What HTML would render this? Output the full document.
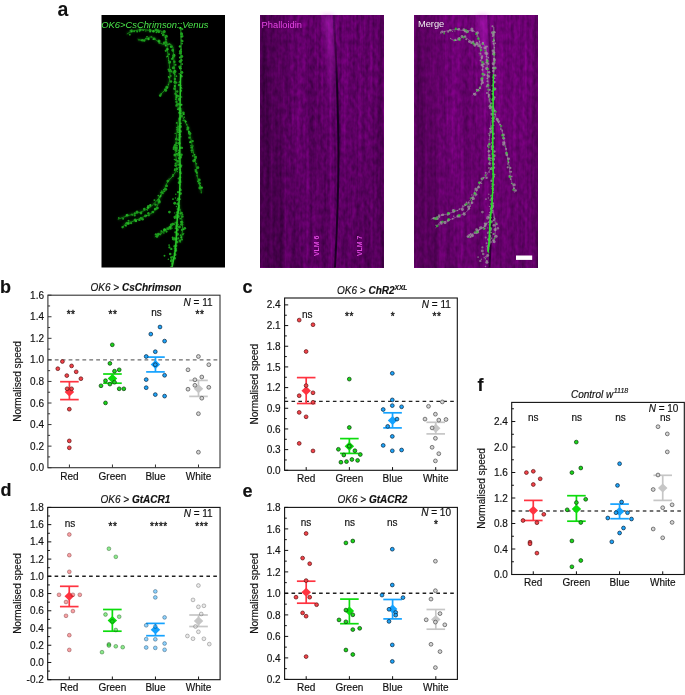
<!DOCTYPE html><html><head><meta charset="utf-8"><title>Figure</title>
<style>html,body{margin:0;padding:0;background:#fff;}svg{display:block;} .ch text{stroke:#111;stroke-width:0.16px;}</style></head><body>
<svg width="685" height="695" viewBox="0 0 685 695" font-family="'Liberation Sans', Arial, sans-serif" fill="#111">
<rect width="685" height="695" fill="#fff"/>
<defs>
<clipPath id="cp1"><rect x="0" y="0" width="123.5" height="252.5"/></clipPath>
<filter id="purp" x="0" y="0" width="1" height="1" color-interpolation-filters="sRGB">
<feTurbulence type="fractalNoise" baseFrequency="0.28 0.16" numOctaves="2" seed="3" result="t1"/>
<feColorMatrix in="t1" type="matrix" values="1 0 0 0 0  1 0 0 0 0  1 0 0 0 0  0 0 0 0 1" result="n1"/>
<feTurbulence type="fractalNoise" baseFrequency="0.30 0.006" numOctaves="2" seed="11" result="t2"/>
<feColorMatrix in="t2" type="matrix" values="1 0 0 0 0  1 0 0 0 0  1 0 0 0 0  0 0 0 0 1" result="n2"/>
<feComposite in="n1" in2="n2" operator="arithmetic" k1="0" k2="0.55" k3="0.55" k4="-0.05" result="n"/>
<feColorMatrix in="n" type="matrix" values="0.46 0 0 0 0.17  0 0 0 0 0  0.46 0 0 0 0.20  0 0 0 0 1"/>
</filter>
<filter id="gblur" x="-5%" y="-5%" width="110%" height="110%"><feGaussianBlur stdDeviation="0.45"/></filter>
<filter id="gblur3" x="-50%" y="-10%" width="200%" height="120%"><feGaussianBlur stdDeviation="2.5"/></filter>
<filter id="gblurL" x="-50%" y="-5%" width="200%" height="110%"><feGaussianBlur stdDeviation="0.7"/></filter>
<filter id="gblur2" x="-20%" y="-5%" width="140%" height="110%"><feGaussianBlur stdDeviation="1.2"/></filter>
<linearGradient id="shade" x1="0" x2="1" y1="0" y2="0">
<stop offset="0" stop-color="#000" stop-opacity="0.30"/>
<stop offset="0.10" stop-color="#000" stop-opacity="0.24"/>
<stop offset="0.17" stop-color="#000" stop-opacity="0.22"/>
<stop offset="0.22" stop-color="#000" stop-opacity="0.08"/>
<stop offset="0.36" stop-color="#000" stop-opacity="0.02"/>
<stop offset="0.48" stop-color="#000" stop-opacity="0.10"/>
<stop offset="0.56" stop-color="#000" stop-opacity="0.03"/>
<stop offset="0.60" stop-color="#000" stop-opacity="0"/>
<stop offset="0.66" stop-color="#000" stop-opacity="0.06"/>
<stop offset="0.80" stop-color="#000" stop-opacity="0.05"/>
<stop offset="0.95" stop-color="#000" stop-opacity="0.10"/>
<stop offset="1" stop-color="#000" stop-opacity="0.28"/>
</linearGradient>
<linearGradient id="lineg" gradientUnits="userSpaceOnUse" x1="0" x2="0" y1="0" y2="252.5">
<stop offset="0" stop-color="#12001a" stop-opacity="0.25"/>
<stop offset="0.15" stop-color="#12001a" stop-opacity="0.5"/>
<stop offset="0.3" stop-color="#12001a" stop-opacity="0.9"/>
<stop offset="1" stop-color="#12001a" stop-opacity="0.85"/>
</linearGradient>
<linearGradient id="ridge" x1="0" x2="0" y1="0" y2="1">
<stop offset="0" stop-color="#d030e0" stop-opacity="0.55"/>
<stop offset="0.5" stop-color="#d030e0" stop-opacity="0.25"/>
<stop offset="1" stop-color="#d030e0" stop-opacity="0"/>
</linearGradient>
<linearGradient id="vshade" x1="0" x2="0" y1="0" y2="1">
<stop offset="0" stop-color="#000" stop-opacity="0"/>
<stop offset="0.5" stop-color="#000" stop-opacity="0.05"/>
<stop offset="1" stop-color="#000" stop-opacity="0.1"/>
</linearGradient>
<g id="purpbg">
<rect x="0" y="0" width="123.5" height="252.5" filter="url(#purp)"/>
<rect x="0" y="0" width="123.5" height="252.5" fill="url(#shade)"/>
<rect x="0" y="0" width="123.5" height="252.5" fill="url(#vshade)"/>
<path d="M62 0 L73 0 C75.5 30 76.5 60 77 120 L71 120 C69 60 66 30 62 0Z" fill="url(#ridge)" opacity="0.7" filter="url(#gblur3)"/>
<path d="M73.5 0 C76.5 40 78 90 78.5 140 C78.3 190 76.5 225 75 252.5" fill="none" stroke="url(#lineg)" stroke-width="2.0" filter="url(#gblurL)"/>
</g>
</defs>
<rect x="101.5" y="15.0" width="123.5" height="252.5" fill="#000"/>
<g transform="translate(101.5 15.0)" clip-path="url(#cp1)">
<g fill="none" stroke="#128012" stroke-width="3.2" opacity="0.35" filter="url(#gblur2)"><path d="M25.3 19.0 C26.4 18.5 29.1 16.7 31.9 16.0 C34.7 15.3 38.9 14.6 42.1 14.6 C45.2 14.6 48.1 15.8 50.8 16.0 C53.5 16.1 56.1 15.0 58.1 15.5 C60.0 16.0 61.4 17.1 62.5 19.0 C63.6 20.9 64.3 23.5 65.0 27.0 C65.7 30.5 66.0 36.0 66.5 40.0 C67.0 44.0 67.7 47.5 68.0 51.0 C68.3 54.5 68.7 57.8 68.5 61.0 C68.3 64.2 67.7 67.8 66.9 70.1 C66.2 72.3 65.5 72.8 64.0 74.5 C62.5 76.2 59.1 79.3 58.1 80.3"/>
<path d="M36.2 24.1 C37.2 24.3 39.9 25.9 42.1 25.5 C44.3 25.1 47.2 21.9 49.4 21.9 C51.6 21.9 53.2 24.3 55.2 25.5 C57.1 26.7 58.9 28.6 61.1 29.2 C63.3 29.8 66.7 28.7 68.4 29.2 C70.1 29.7 70.7 30.3 71.3 32.1 C71.9 33.9 71.8 36.8 72.0 40.0 C72.2 43.2 72.4 46.8 72.7 51.1 C72.9 55.4 73.2 60.8 73.5 65.7 C73.8 70.6 73.8 76.7 74.2 80.3 C74.6 83.9 75.2 85.1 75.7 87.6 C76.2 90.0 76.8 93.8 77.0 95.0"/>
<path d="M79.5 93.0 C79.8 94.6 80.4 99.5 81.5 102.5 C82.6 105.5 84.7 108.1 85.9 111.3 C87.1 114.5 87.8 117.4 88.8 121.5 C89.8 125.6 90.7 131.2 91.7 136.1 C92.7 141.0 93.9 146.3 94.6 150.7 C95.3 155.1 95.4 158.8 96.1 162.4 C96.8 166.1 98.4 170.0 99.0 172.6 C99.6 175.2 99.8 176.9 99.9 177.8"/>
<path d="M77.0 105.0 C76.8 106.5 76.2 109.0 75.7 114.2 C75.2 119.4 74.2 130.0 74.2 136.1 C74.2 142.2 75.4 148.3 75.7 150.7"/>
<path d="M77.1 152.2 C76.1 153.6 73.3 158.2 71.3 160.9 C69.4 163.6 67.1 165.4 65.4 168.2 C63.7 171.0 63.1 174.9 61.3 177.8 C59.6 180.8 57.0 183.5 54.9 185.9 C52.8 188.3 51.2 190.4 48.5 192.3 C45.8 194.2 42.3 195.8 38.8 197.1 C35.3 198.4 31.3 199.1 27.6 200.3 C23.8 201.5 18.2 203.6 16.3 204.3"/>
<path d="M60.5 175.0 C59.8 177.3 58.0 185.3 56.5 189.0 C55.0 192.7 54.1 194.9 51.7 197.1 C49.3 199.2 45.2 200.4 42.0 201.9 C38.8 203.4 35.3 204.9 32.4 206.0 C29.5 207.1 26.3 207.2 24.4 208.4 C22.5 209.6 21.7 212.4 21.2 213.2"/>
<path d="M74.2 206.8 C73.1 207.9 69.8 211.6 67.7 213.2 C65.5 214.8 63.7 214.9 61.3 216.4 C58.9 217.9 54.6 221.1 53.3 222.0"/>
<path d="M77.5 190.0 C77.8 191.7 78.9 196.7 79.5 200.0 C80.1 203.3 80.8 206.7 81.0 210.0 C81.2 213.3 80.9 217.0 80.5 220.0 C80.1 223.0 78.8 226.7 78.5 228.0"/>
<path d="M70.4 211.6 C69.2 212.3 66.0 214.3 63.5 216.0 C60.9 217.7 56.5 220.8 55.1 221.8"/><path d="M79.1 59.0 C79.0 62.0 78.9 72.2 78.8 77.0 C78.7 81.8 78.7 79.0 78.6 87.6 C78.5 96.2 78.3 115.9 78.3 128.8 C78.3 141.7 78.8 154.9 78.6 165.0 C78.4 175.1 77.9 182.4 77.4 189.1 C76.9 195.8 76.1 199.7 75.7 205.0 C75.3 210.3 75.2 216.0 74.9 221.0 C74.6 226.0 74.3 231.0 73.8 235.0 C73.3 239.0 72.5 242.2 72.0 245.0 C71.5 247.8 70.8 250.8 70.5 252.0"/></g>
<g fill="none" stroke="#178c17" stroke-width="0.9" filter="url(#gblur)"><path d="M25.3 19.0 C26.4 18.5 29.1 16.7 31.9 16.0 C34.7 15.3 38.9 14.6 42.1 14.6 C45.2 14.6 48.1 15.8 50.8 16.0 C53.5 16.1 56.1 15.0 58.1 15.5 C60.0 16.0 61.4 17.1 62.5 19.0 C63.6 20.9 64.3 23.5 65.0 27.0 C65.7 30.5 66.0 36.0 66.5 40.0 C67.0 44.0 67.7 47.5 68.0 51.0 C68.3 54.5 68.7 57.8 68.5 61.0 C68.3 64.2 67.7 67.8 66.9 70.1 C66.2 72.3 65.5 72.8 64.0 74.5 C62.5 76.2 59.1 79.3 58.1 80.3"/>
<path d="M36.2 24.1 C37.2 24.3 39.9 25.9 42.1 25.5 C44.3 25.1 47.2 21.9 49.4 21.9 C51.6 21.9 53.2 24.3 55.2 25.5 C57.1 26.7 58.9 28.6 61.1 29.2 C63.3 29.8 66.7 28.7 68.4 29.2 C70.1 29.7 70.7 30.3 71.3 32.1 C71.9 33.9 71.8 36.8 72.0 40.0 C72.2 43.2 72.4 46.8 72.7 51.1 C72.9 55.4 73.2 60.8 73.5 65.7 C73.8 70.6 73.8 76.7 74.2 80.3 C74.6 83.9 75.2 85.1 75.7 87.6 C76.2 90.0 76.8 93.8 77.0 95.0"/>
<path d="M79.5 93.0 C79.8 94.6 80.4 99.5 81.5 102.5 C82.6 105.5 84.7 108.1 85.9 111.3 C87.1 114.5 87.8 117.4 88.8 121.5 C89.8 125.6 90.7 131.2 91.7 136.1 C92.7 141.0 93.9 146.3 94.6 150.7 C95.3 155.1 95.4 158.8 96.1 162.4 C96.8 166.1 98.4 170.0 99.0 172.6 C99.6 175.2 99.8 176.9 99.9 177.8"/>
<path d="M77.0 105.0 C76.8 106.5 76.2 109.0 75.7 114.2 C75.2 119.4 74.2 130.0 74.2 136.1 C74.2 142.2 75.4 148.3 75.7 150.7"/>
<path d="M77.1 152.2 C76.1 153.6 73.3 158.2 71.3 160.9 C69.4 163.6 67.1 165.4 65.4 168.2 C63.7 171.0 63.1 174.9 61.3 177.8 C59.6 180.8 57.0 183.5 54.9 185.9 C52.8 188.3 51.2 190.4 48.5 192.3 C45.8 194.2 42.3 195.8 38.8 197.1 C35.3 198.4 31.3 199.1 27.6 200.3 C23.8 201.5 18.2 203.6 16.3 204.3"/>
<path d="M60.5 175.0 C59.8 177.3 58.0 185.3 56.5 189.0 C55.0 192.7 54.1 194.9 51.7 197.1 C49.3 199.2 45.2 200.4 42.0 201.9 C38.8 203.4 35.3 204.9 32.4 206.0 C29.5 207.1 26.3 207.2 24.4 208.4 C22.5 209.6 21.7 212.4 21.2 213.2"/>
<path d="M74.2 206.8 C73.1 207.9 69.8 211.6 67.7 213.2 C65.5 214.8 63.7 214.9 61.3 216.4 C58.9 217.9 54.6 221.1 53.3 222.0"/>
<path d="M77.5 190.0 C77.8 191.7 78.9 196.7 79.5 200.0 C80.1 203.3 80.8 206.7 81.0 210.0 C81.2 213.3 80.9 217.0 80.5 220.0 C80.1 223.0 78.8 226.7 78.5 228.0"/>
<path d="M70.4 211.6 C69.2 212.3 66.0 214.3 63.5 216.0 C60.9 217.7 56.5 220.8 55.1 221.8"/></g>
<g fill="#1c9c1c" filter="url(#gblur)"><circle cx="28.3" cy="19.7" r="0.90"/>
<circle cx="28.7" cy="16.1" r="0.75"/>
<circle cx="30.0" cy="15.5" r="1.20"/>
<circle cx="32.6" cy="16.3" r="0.94"/>
<circle cx="35.7" cy="16.5" r="1.08"/>
<circle cx="38.7" cy="14.9" r="1.30"/>
<circle cx="38.1" cy="16.6" r="0.62"/>
<circle cx="44.3" cy="16.0" r="0.62"/>
<circle cx="48.7" cy="15.1" r="1.18"/>
<circle cx="48.1" cy="14.3" r="0.78"/>
<circle cx="54.5" cy="14.8" r="1.36"/>
<circle cx="55.0" cy="17.3" r="0.94"/>
<circle cx="56.3" cy="15.7" r="1.38"/>
<circle cx="57.3" cy="16.8" r="1.40"/>
<circle cx="62.7" cy="16.6" r="1.55"/>
<circle cx="61.6" cy="20.0" r="1.21"/>
<circle cx="64.8" cy="21.2" r="1.52"/>
<circle cx="64.5" cy="24.3" r="0.92"/>
<circle cx="64.0" cy="26.3" r="0.75"/>
<circle cx="66.2" cy="33.7" r="0.76"/>
<circle cx="64.3" cy="35.8" r="1.13"/>
<circle cx="65.6" cy="34.3" r="1.19"/>
<circle cx="67.5" cy="39.3" r="1.02"/>
<circle cx="65.0" cy="41.8" r="0.63"/>
<circle cx="67.1" cy="45.6" r="0.73"/>
<circle cx="68.1" cy="47.4" r="1.23"/>
<circle cx="68.6" cy="46.9" r="1.03"/>
<circle cx="66.9" cy="54.4" r="0.89"/>
<circle cx="68.0" cy="55.7" r="1.45"/>
<circle cx="69.9" cy="56.4" r="1.09"/>
<circle cx="69.3" cy="60.9" r="0.89"/>
<circle cx="67.7" cy="62.4" r="0.98"/>
<circle cx="69.5" cy="66.5" r="1.23"/>
<circle cx="66.9" cy="69.4" r="0.69"/>
<circle cx="65.3" cy="72.2" r="1.47"/>
<circle cx="64.0" cy="74.8" r="1.37"/>
<circle cx="64.3" cy="75.5" r="1.36"/>
<circle cx="59.7" cy="78.9" r="0.88"/>
<circle cx="58.7" cy="80.6" r="1.29"/>
<circle cx="37.5" cy="25.1" r="0.63"/>
<circle cx="40.8" cy="25.3" r="1.25"/>
<circle cx="42.7" cy="25.4" r="1.23"/>
<circle cx="44.4" cy="23.5" r="0.83"/>
<circle cx="45.5" cy="21.8" r="0.92"/>
<circle cx="49.9" cy="21.8" r="0.64"/>
<circle cx="52.9" cy="23.7" r="1.21"/>
<circle cx="57.5" cy="25.9" r="1.50"/>
<circle cx="57.8" cy="27.9" r="0.88"/>
<circle cx="62.8" cy="27.9" r="1.43"/>
<circle cx="64.7" cy="27.6" r="1.21"/>
<circle cx="66.5" cy="29.4" r="0.94"/>
<circle cx="69.7" cy="31.8" r="1.42"/>
<circle cx="71.2" cy="34.9" r="1.24"/>
<circle cx="71.3" cy="35.5" r="1.20"/>
<circle cx="72.2" cy="41.1" r="1.57"/>
<circle cx="72.4" cy="40.5" r="1.49"/>
<circle cx="70.6" cy="43.8" r="1.17"/>
<circle cx="72.9" cy="46.7" r="1.23"/>
<circle cx="74.0" cy="49.8" r="1.03"/>
<circle cx="71.9" cy="52.8" r="1.57"/>
<circle cx="72.6" cy="57.4" r="1.51"/>
<circle cx="73.4" cy="56.4" r="1.58"/>
<circle cx="73.2" cy="59.4" r="0.92"/>
<circle cx="74.9" cy="61.2" r="0.89"/>
<circle cx="73.4" cy="64.0" r="1.22"/>
<circle cx="73.4" cy="67.3" r="1.38"/>
<circle cx="74.8" cy="67.6" r="1.13"/>
<circle cx="73.0" cy="73.7" r="1.38"/>
<circle cx="73.1" cy="74.0" r="0.75"/>
<circle cx="75.7" cy="76.5" r="1.21"/>
<circle cx="74.0" cy="78.8" r="1.20"/>
<circle cx="75.4" cy="80.9" r="1.36"/>
<circle cx="74.3" cy="84.3" r="0.94"/>
<circle cx="74.8" cy="86.9" r="1.06"/>
<circle cx="75.4" cy="89.5" r="1.19"/>
<circle cx="74.8" cy="90.8" r="1.06"/>
<circle cx="78.3" cy="95.8" r="1.15"/>
<circle cx="77.9" cy="93.8" r="1.58"/>
<circle cx="82.1" cy="97.9" r="0.65"/>
<circle cx="81.9" cy="97.8" r="1.25"/>
<circle cx="82.8" cy="102.2" r="0.73"/>
<circle cx="81.6" cy="105.5" r="0.75"/>
<circle cx="83.7" cy="105.8" r="0.76"/>
<circle cx="84.6" cy="106.4" r="0.71"/>
<circle cx="85.4" cy="109.7" r="0.66"/>
<circle cx="86.4" cy="113.1" r="1.48"/>
<circle cx="85.7" cy="114.6" r="0.91"/>
<circle cx="88.3" cy="118.5" r="1.54"/>
<circle cx="87.8" cy="117.9" r="1.30"/>
<circle cx="87.8" cy="122.7" r="1.11"/>
<circle cx="91.1" cy="126.1" r="1.22"/>
<circle cx="89.0" cy="126.7" r="0.85"/>
<circle cx="91.5" cy="130.9" r="0.73"/>
<circle cx="90.2" cy="132.5" r="1.34"/>
<circle cx="90.3" cy="135.4" r="1.26"/>
<circle cx="90.4" cy="137.4" r="0.69"/>
<circle cx="91.3" cy="140.8" r="0.84"/>
<circle cx="94.4" cy="143.1" r="0.92"/>
<circle cx="94.2" cy="142.1" r="1.33"/>
<circle cx="92.3" cy="145.8" r="1.55"/>
<circle cx="95.0" cy="148.7" r="0.72"/>
<circle cx="96.4" cy="152.7" r="1.42"/>
<circle cx="93.9" cy="155.0" r="0.95"/>
<circle cx="94.5" cy="156.4" r="1.21"/>
<circle cx="95.4" cy="160.8" r="0.74"/>
<circle cx="97.8" cy="165.0" r="1.40"/>
<circle cx="96.6" cy="166.3" r="1.12"/>
<circle cx="98.0" cy="168.3" r="1.34"/>
<circle cx="98.5" cy="170.8" r="0.63"/>
<circle cx="98.3" cy="173.1" r="1.49"/>
<circle cx="99.7" cy="177.8" r="0.60"/>
<circle cx="75.2" cy="107.9" r="0.97"/>
<circle cx="77.7" cy="111.4" r="1.27"/>
<circle cx="75.8" cy="114.5" r="0.72"/>
<circle cx="76.2" cy="114.5" r="1.27"/>
<circle cx="76.2" cy="116.6" r="0.80"/>
<circle cx="73.7" cy="118.4" r="0.68"/>
<circle cx="74.8" cy="123.5" r="0.96"/>
<circle cx="74.4" cy="124.2" r="0.88"/>
<circle cx="75.6" cy="128.0" r="0.76"/>
<circle cx="73.8" cy="130.3" r="1.54"/>
<circle cx="74.9" cy="133.1" r="1.58"/>
<circle cx="72.7" cy="132.5" r="1.38"/>
<circle cx="74.0" cy="135.2" r="1.15"/>
<circle cx="76.2" cy="139.3" r="0.95"/>
<circle cx="73.4" cy="139.9" r="1.50"/>
<circle cx="75.0" cy="145.6" r="0.65"/>
<circle cx="74.4" cy="144.9" r="1.00"/>
<circle cx="74.1" cy="148.6" r="1.01"/>
<circle cx="75.3" cy="153.8" r="1.42"/>
<circle cx="74.9" cy="153.2" r="0.68"/>
<circle cx="73.3" cy="155.2" r="1.03"/>
<circle cx="71.6" cy="160.0" r="0.66"/>
<circle cx="71.6" cy="159.8" r="0.80"/>
<circle cx="67.6" cy="164.1" r="0.70"/>
<circle cx="66.3" cy="166.1" r="1.35"/>
<circle cx="65.0" cy="170.8" r="1.25"/>
<circle cx="65.2" cy="171.1" r="1.04"/>
<circle cx="64.1" cy="174.3" r="1.55"/>
<circle cx="63.0" cy="176.3" r="0.87"/>
<circle cx="61.5" cy="178.5" r="0.73"/>
<circle cx="56.8" cy="180.6" r="0.86"/>
<circle cx="57.7" cy="182.3" r="0.66"/>
<circle cx="56.0" cy="185.8" r="0.63"/>
<circle cx="52.9" cy="185.1" r="0.96"/>
<circle cx="54.0" cy="189.6" r="1.21"/>
<circle cx="48.6" cy="191.1" r="0.96"/>
<circle cx="46.7" cy="191.2" r="1.18"/>
<circle cx="45.8" cy="195.0" r="0.70"/>
<circle cx="42.8" cy="194.0" r="1.31"/>
<circle cx="39.5" cy="198.1" r="1.39"/>
<circle cx="35.5" cy="197.1" r="1.51"/>
<circle cx="33.3" cy="198.4" r="1.04"/>
<circle cx="33.2" cy="200.4" r="1.13"/>
<circle cx="30.7" cy="200.2" r="0.70"/>
<circle cx="26.3" cy="200.9" r="0.65"/>
<circle cx="25.8" cy="199.9" r="1.18"/>
<circle cx="21.6" cy="203.7" r="0.99"/>
<circle cx="17.3" cy="202.9" r="0.80"/>
<circle cx="60.7" cy="177.5" r="1.22"/>
<circle cx="60.6" cy="177.7" r="0.61"/>
<circle cx="58.7" cy="181.7" r="0.78"/>
<circle cx="58.0" cy="181.9" r="0.63"/>
<circle cx="57.0" cy="184.8" r="1.08"/>
<circle cx="57.7" cy="186.9" r="1.58"/>
<circle cx="56.0" cy="193.1" r="1.29"/>
<circle cx="54.1" cy="194.1" r="1.40"/>
<circle cx="51.5" cy="197.0" r="1.28"/>
<circle cx="50.3" cy="197.1" r="0.68"/>
<circle cx="46.9" cy="198.3" r="1.18"/>
<circle cx="47.4" cy="200.4" r="0.91"/>
<circle cx="43.9" cy="200.9" r="1.32"/>
<circle cx="39.4" cy="203.3" r="1.27"/>
<circle cx="41.1" cy="204.3" r="1.29"/>
<circle cx="37.9" cy="204.9" r="1.21"/>
<circle cx="33.6" cy="205.1" r="1.50"/>
<circle cx="29.6" cy="208.2" r="1.14"/>
<circle cx="27.0" cy="205.8" r="0.99"/>
<circle cx="25.4" cy="208.3" r="1.50"/>
<circle cx="24.5" cy="210.7" r="0.99"/>
<circle cx="21.0" cy="212.2" r="1.15"/>
<circle cx="73.1" cy="209.2" r="0.82"/>
<circle cx="69.7" cy="210.0" r="1.43"/>
<circle cx="69.2" cy="213.7" r="1.02"/>
<circle cx="66.8" cy="213.6" r="1.50"/>
<circle cx="62.9" cy="214.5" r="1.21"/>
<circle cx="62.4" cy="215.7" r="0.63"/>
<circle cx="56.7" cy="218.9" r="1.20"/>
<circle cx="54.4" cy="219.4" r="1.19"/>
<circle cx="55.5" cy="221.5" r="1.33"/>
<circle cx="76.1" cy="189.0" r="1.22"/>
<circle cx="76.9" cy="194.6" r="1.34"/>
<circle cx="80.0" cy="198.1" r="1.31"/>
<circle cx="80.9" cy="201.4" r="1.23"/>
<circle cx="81.2" cy="199.4" r="0.70"/>
<circle cx="78.7" cy="203.6" r="0.97"/>
<circle cx="80.4" cy="207.2" r="1.34"/>
<circle cx="79.6" cy="209.5" r="1.14"/>
<circle cx="80.5" cy="209.3" r="1.20"/>
<circle cx="80.4" cy="214.9" r="1.10"/>
<circle cx="82.2" cy="218.6" r="0.67"/>
<circle cx="81.4" cy="219.4" r="0.90"/>
<circle cx="79.1" cy="220.2" r="0.95"/>
<circle cx="80.5" cy="224.6" r="0.98"/>
<circle cx="78.4" cy="225.7" r="1.30"/>
<circle cx="68.3" cy="211.9" r="1.27"/>
<circle cx="65.3" cy="213.1" r="0.70"/>
<circle cx="65.0" cy="216.6" r="1.14"/>
<circle cx="62.4" cy="218.0" r="0.69"/>
<circle cx="59.1" cy="219.7" r="0.61"/>
<circle cx="59.1" cy="219.2" r="0.62"/>
<circle cx="56.2" cy="220.3" r="0.98"/>
<circle cx="78.6" cy="13.1" r="1.25"/>
<circle cx="80.8" cy="14.1" r="1.13"/>
<circle cx="80.1" cy="18.9" r="1.55"/>
<circle cx="81.1" cy="21.1" r="0.77"/>
<circle cx="80.9" cy="21.4" r="1.05"/>
<circle cx="80.3" cy="25.5" r="0.99"/>
<circle cx="80.9" cy="26.2" r="1.15"/>
<circle cx="80.6" cy="28.6" r="0.95"/>
<circle cx="79.5" cy="34.2" r="0.81"/>
<circle cx="79.4" cy="34.2" r="0.69"/>
<circle cx="79.0" cy="36.5" r="1.57"/>
<circle cx="78.8" cy="38.3" r="1.38"/>
<circle cx="80.3" cy="41.5" r="1.43"/>
<circle cx="79.9" cy="45.3" r="1.23"/>
<circle cx="78.6" cy="46.5" r="1.48"/>
<circle cx="79.2" cy="51.5" r="0.78"/>
<circle cx="78.1" cy="51.8" r="1.34"/>
<circle cx="79.6" cy="53.4" r="0.64"/>
<circle cx="80.4" cy="57.5" r="1.47"/>
<circle cx="77.7" cy="58.8" r="0.72"/>
<circle cx="80.0" cy="61.3" r="1.21"/>
<circle cx="78.2" cy="66.7" r="0.71"/>
<circle cx="77.6" cy="67.3" r="0.69"/>
<circle cx="77.5" cy="70.1" r="1.25"/>
<circle cx="80.3" cy="73.3" r="0.67"/>
<circle cx="79.4" cy="76.4" r="0.72"/>
<circle cx="79.7" cy="75.5" r="0.90"/>
<circle cx="77.1" cy="81.2" r="1.12"/>
<circle cx="80.1" cy="82.0" r="0.76"/>
<circle cx="77.7" cy="84.1" r="1.55"/>
<circle cx="77.6" cy="84.1" r="0.95"/>
<circle cx="77.2" cy="89.2" r="1.22"/>
<circle cx="79.1" cy="89.9" r="0.74"/>
<circle cx="78.5" cy="95.4" r="1.05"/>
<circle cx="78.8" cy="98.7" r="0.75"/>
<circle cx="77.7" cy="97.8" r="1.14"/>
<circle cx="79.9" cy="100.9" r="1.26"/>
<circle cx="78.2" cy="103.8" r="1.44"/>
<circle cx="77.8" cy="104.4" r="0.86"/>
<circle cx="78.0" cy="109.0" r="0.86"/>
<circle cx="78.9" cy="111.5" r="1.56"/>
<circle cx="77.1" cy="113.1" r="0.94"/>
<circle cx="77.1" cy="115.1" r="1.44"/>
<circle cx="78.7" cy="116.3" r="1.57"/>
<circle cx="78.0" cy="119.7" r="1.32"/>
<circle cx="77.5" cy="122.1" r="0.93"/>
<circle cx="76.9" cy="124.6" r="1.32"/>
<circle cx="78.0" cy="129.8" r="0.66"/>
<circle cx="77.6" cy="128.2" r="1.54"/>
<circle cx="79.3" cy="132.6" r="1.11"/>
<circle cx="77.0" cy="135.3" r="0.83"/>
<circle cx="76.8" cy="138.6" r="0.89"/>
<circle cx="77.1" cy="139.9" r="1.53"/>
<circle cx="79.9" cy="141.1" r="0.70"/>
<circle cx="79.3" cy="142.5" r="1.14"/>
<circle cx="77.0" cy="149.6" r="1.14"/>
<circle cx="78.3" cy="149.6" r="1.15"/>
<circle cx="80.1" cy="150.3" r="0.81"/>
<circle cx="78.6" cy="154.8" r="0.98"/>
<circle cx="79.0" cy="157.8" r="0.93"/>
<circle cx="79.6" cy="158.5" r="0.74"/>
<circle cx="77.1" cy="163.5" r="1.07"/>
<circle cx="78.4" cy="164.9" r="1.17"/>
<circle cx="78.5" cy="166.1" r="1.34"/>
<circle cx="77.6" cy="167.7" r="1.36"/>
<circle cx="78.7" cy="169.8" r="0.80"/>
<circle cx="78.8" cy="175.4" r="0.70"/>
<circle cx="79.7" cy="175.1" r="0.77"/>
<circle cx="76.6" cy="177.1" r="1.22"/>
<circle cx="79.1" cy="178.6" r="1.30"/>
<circle cx="76.3" cy="183.7" r="0.85"/>
<circle cx="77.1" cy="183.7" r="1.32"/>
<circle cx="76.2" cy="188.5" r="0.94"/>
<circle cx="77.6" cy="190.8" r="1.09"/>
<circle cx="78.2" cy="194.7" r="0.88"/>
<circle cx="76.0" cy="198.2" r="0.73"/>
<circle cx="76.2" cy="197.4" r="1.58"/>
<circle cx="74.8" cy="201.7" r="1.36"/>
<circle cx="76.7" cy="201.4" r="1.54"/>
<circle cx="75.0" cy="207.7" r="1.26"/>
<circle cx="75.2" cy="210.8" r="1.28"/>
<circle cx="74.9" cy="211.5" r="1.11"/>
<circle cx="76.0" cy="214.7" r="1.40"/>
<circle cx="73.9" cy="217.5" r="0.60"/>
<circle cx="76.0" cy="219.3" r="1.44"/>
<circle cx="73.2" cy="223.3" r="1.08"/>
<circle cx="73.3" cy="224.0" r="1.57"/>
<circle cx="75.5" cy="227.1" r="1.43"/>
<circle cx="74.6" cy="230.7" r="1.24"/>
<circle cx="72.9" cy="233.7" r="0.61"/>
<circle cx="74.3" cy="235.4" r="1.34"/>
<circle cx="73.1" cy="238.5" r="0.91"/>
<circle cx="73.7" cy="239.7" r="1.20"/>
<circle cx="73.2" cy="243.3" r="1.29"/>
<circle cx="70.2" cy="245.4" r="1.44"/>
<circle cx="70.0" cy="247.1" r="0.61"/></g>
<g fill="#28b828" filter="url(#gblur)"><circle cx="30.2" cy="16.8" r="0.79"/>
<circle cx="41.6" cy="15.3" r="0.75"/>
<circle cx="48.6" cy="16.6" r="0.91"/>
<circle cx="51.9" cy="16.3" r="1.18"/>
<circle cx="60.3" cy="18.3" r="0.76"/>
<circle cx="63.8" cy="22.8" r="0.72"/>
<circle cx="64.2" cy="30.4" r="1.00"/>
<circle cx="66.1" cy="34.2" r="0.95"/>
<circle cx="65.9" cy="41.2" r="0.73"/>
<circle cx="69.1" cy="54.6" r="0.58"/>
<circle cx="67.0" cy="61.7" r="0.69"/>
<circle cx="65.8" cy="73.0" r="0.73"/>
<circle cx="63.5" cy="74.1" r="0.71"/>
<circle cx="39.5" cy="25.0" r="0.52"/>
<circle cx="47.0" cy="24.0" r="1.18"/>
<circle cx="51.8" cy="24.1" r="0.88"/>
<circle cx="57.2" cy="26.6" r="0.74"/>
<circle cx="68.2" cy="28.9" r="0.64"/>
<circle cx="69.3" cy="31.2" r="0.64"/>
<circle cx="73.1" cy="39.9" r="0.65"/>
<circle cx="71.1" cy="42.7" r="0.62"/>
<circle cx="73.0" cy="56.0" r="0.68"/>
<circle cx="73.2" cy="66.2" r="0.81"/>
<circle cx="73.3" cy="71.1" r="1.07"/>
<circle cx="75.3" cy="80.4" r="0.79"/>
<circle cx="75.0" cy="82.4" r="0.95"/>
<circle cx="76.2" cy="94.2" r="0.79"/>
<circle cx="82.3" cy="99.2" r="0.89"/>
<circle cx="84.1" cy="106.7" r="0.89"/>
<circle cx="87.4" cy="116.8" r="1.00"/>
<circle cx="88.6" cy="127.2" r="1.05"/>
<circle cx="89.4" cy="130.6" r="0.64"/>
<circle cx="93.1" cy="139.8" r="0.81"/>
<circle cx="93.4" cy="144.7" r="0.99"/>
<circle cx="95.4" cy="157.8" r="0.88"/>
<circle cx="98.7" cy="171.0" r="0.71"/>
<circle cx="100.3" cy="172.7" r="1.11"/>
<circle cx="75.4" cy="112.5" r="0.71"/>
<circle cx="76.7" cy="117.4" r="0.77"/>
<circle cx="74.6" cy="128.1" r="0.83"/>
<circle cx="74.5" cy="133.0" r="0.69"/>
<circle cx="73.5" cy="139.7" r="0.68"/>
<circle cx="76.2" cy="145.5" r="0.58"/>
<circle cx="75.8" cy="156.6" r="0.53"/>
<circle cx="71.4" cy="161.2" r="0.75"/>
<circle cx="62.1" cy="174.6" r="0.56"/>
<circle cx="59.1" cy="181.1" r="0.98"/>
<circle cx="48.8" cy="190.2" r="1.14"/>
<circle cx="46.4" cy="192.6" r="1.18"/>
<circle cx="30.4" cy="198.9" r="0.51"/>
<circle cx="25.1" cy="200.3" r="1.01"/>
<circle cx="59.1" cy="177.3" r="0.56"/>
<circle cx="58.1" cy="186.1" r="0.80"/>
<circle cx="53.3" cy="194.0" r="0.87"/>
<circle cx="45.2" cy="200.6" r="0.75"/>
<circle cx="34.5" cy="206.0" r="1.15"/>
<circle cx="27.0" cy="208.5" r="1.19"/>
<circle cx="23.9" cy="210.2" r="0.77"/>
<circle cx="68.9" cy="212.4" r="1.03"/>
<circle cx="62.5" cy="215.0" r="0.78"/>
<circle cx="59.7" cy="216.1" r="0.80"/>
<circle cx="78.6" cy="198.7" r="0.81"/>
<circle cx="79.5" cy="206.8" r="0.90"/>
<circle cx="82.1" cy="214.2" r="0.94"/>
<circle cx="79.8" cy="222.3" r="1.14"/>
<circle cx="63.4" cy="214.7" r="1.09"/>
<circle cx="57.6" cy="219.5" r="0.54"/>
<circle cx="79.5" cy="13.3" r="0.61"/>
<circle cx="79.9" cy="21.8" r="0.97"/>
<circle cx="78.4" cy="31.4" r="1.18"/>
<circle cx="78.5" cy="35.8" r="0.56"/>
<circle cx="78.4" cy="42.5" r="1.00"/>
<circle cx="80.7" cy="49.0" r="0.86"/>
<circle cx="78.7" cy="53.3" r="1.19"/>
<circle cx="79.7" cy="60.7" r="0.64"/>
<circle cx="79.7" cy="70.7" r="0.55"/>
<circle cx="79.8" cy="72.6" r="0.65"/>
<circle cx="77.4" cy="85.0" r="0.60"/>
<circle cx="79.9" cy="89.7" r="1.07"/>
<circle cx="79.2" cy="98.4" r="0.90"/>
<circle cx="79.3" cy="102.5" r="0.60"/>
<circle cx="79.3" cy="108.3" r="0.91"/>
<circle cx="78.4" cy="119.4" r="0.79"/>
<circle cx="79.3" cy="121.8" r="0.73"/>
<circle cx="78.8" cy="133.0" r="1.08"/>
<circle cx="77.5" cy="137.6" r="1.06"/>
<circle cx="77.4" cy="143.6" r="0.91"/>
<circle cx="79.8" cy="151.7" r="0.80"/>
<circle cx="78.5" cy="157.5" r="0.87"/>
<circle cx="78.7" cy="162.4" r="1.15"/>
<circle cx="79.4" cy="167.1" r="0.69"/>
<circle cx="78.5" cy="174.0" r="1.00"/>
<circle cx="79.0" cy="184.1" r="0.59"/>
<circle cx="77.6" cy="184.3" r="0.64"/>
<circle cx="77.2" cy="192.7" r="1.04"/>
<circle cx="75.0" cy="200.3" r="0.76"/>
<circle cx="76.6" cy="209.3" r="0.61"/>
<circle cx="75.1" cy="218.6" r="0.53"/>
<circle cx="75.0" cy="224.4" r="1.04"/>
<circle cx="74.5" cy="233.8" r="0.89"/>
<circle cx="74.1" cy="235.9" r="0.81"/>
<circle cx="69.6" cy="251.7" r="0.69"/></g>
<g fill="#1c9c1c" filter="url(#gblur)"><circle cx="75.9" cy="185.1" r="0.95"/>
<circle cx="73.9" cy="183.0" r="0.70"/>
<circle cx="75.0" cy="191.6" r="0.73"/>
<circle cx="74.3" cy="179.2" r="0.72"/>
<circle cx="71.5" cy="184.1" r="0.97"/>
<circle cx="75.7" cy="185.0" r="0.62"/>
<circle cx="77.1" cy="183.5" r="0.78"/>
<circle cx="73.2" cy="188.3" r="1.46"/>
<circle cx="75.0" cy="202.7" r="1.13"/>
<circle cx="67.9" cy="197.1" r="1.35"/>
<circle cx="73.3" cy="202.1" r="1.35"/>
<circle cx="75.2" cy="199.9" r="1.26"/>
<circle cx="77.3" cy="195.8" r="0.80"/>
<circle cx="75.8" cy="193.9" r="0.77"/>
<circle cx="73.3" cy="197.9" r="0.64"/>
<circle cx="73.2" cy="203.0" r="0.96"/>
<circle cx="71.3" cy="209.1" r="1.47"/>
<circle cx="83.3" cy="213.2" r="1.31"/>
<circle cx="73.9" cy="217.3" r="1.16"/>
<circle cx="70.5" cy="213.3" r="0.68"/>
<circle cx="76.7" cy="223.3" r="1.14"/>
<circle cx="74.1" cy="213.3" r="0.96"/>
<circle cx="77.9" cy="212.0" r="1.49"/>
<circle cx="75.5" cy="219.1" r="1.32"/>
<circle cx="67.9" cy="232.4" r="1.11"/>
<circle cx="73.4" cy="231.2" r="1.48"/>
<circle cx="73.8" cy="231.8" r="0.90"/>
<circle cx="71.2" cy="222.5" r="1.03"/>
<circle cx="67.6" cy="230.1" r="0.85"/>
<circle cx="69.8" cy="233.9" r="1.17"/>
<circle cx="73.8" cy="230.5" r="0.72"/>
<circle cx="71.8" cy="224.0" r="1.48"/>
<circle cx="68.7" cy="239.0" r="1.29"/>
<circle cx="71.1" cy="241.7" r="0.61"/>
<circle cx="66.9" cy="244.3" r="0.76"/>
<circle cx="69.9" cy="242.6" r="1.38"/>
<circle cx="72.2" cy="243.7" r="0.79"/>
<circle cx="70.3" cy="248.8" r="0.87"/>
<circle cx="69.7" cy="246.0" r="1.23"/>
<circle cx="63.0" cy="240.8" r="0.96"/>
<circle cx="72.1" cy="134.1" r="1.02"/>
<circle cx="75.9" cy="130.7" r="0.72"/>
<circle cx="80.0" cy="139.8" r="1.27"/>
<circle cx="80.5" cy="132.9" r="1.12"/>
<circle cx="79.3" cy="141.6" r="0.71"/>
<circle cx="75.1" cy="136.0" r="0.94"/>
<circle cx="75.5" cy="138.9" r="1.24"/>
<circle cx="74.5" cy="134.2" r="1.30"/>
<circle cx="77.0" cy="142.7" r="0.63"/>
<circle cx="73.0" cy="144.5" r="0.83"/>
<circle cx="79.0" cy="156.9" r="0.93"/>
<circle cx="73.3" cy="154.2" r="0.95"/>
<circle cx="78.1" cy="152.6" r="0.91"/>
<circle cx="76.6" cy="146.4" r="1.29"/>
<circle cx="79.4" cy="151.2" r="1.16"/>
<circle cx="74.2" cy="150.6" r="1.44"/></g>
<path d="M79.3 12.0 C79.4 16.1 79.6 28.8 79.6 36.5 C79.6 44.2 79.4 53.7 79.3 58.4 C79.2 63.2 79.0 63.9 79.0 65.0" fill="none" stroke="#22a822" stroke-width="1.0" filter="url(#gblur)"/>
<path d="M79.1 59.0 C79.0 62.0 78.9 72.2 78.8 77.0 C78.7 81.8 78.7 79.0 78.6 87.6 C78.5 96.2 78.3 115.9 78.3 128.8 C78.3 141.7 78.8 154.9 78.6 165.0 C78.4 175.1 77.9 182.4 77.4 189.1 C76.9 195.8 76.1 199.7 75.7 205.0 C75.3 210.3 75.2 216.0 74.9 221.0 C74.6 226.0 74.3 231.0 73.8 235.0 C73.3 239.0 72.5 242.2 72.0 245.0 C71.5 247.8 70.8 250.8 70.5 252.0" fill="none" stroke="#2cc82c" stroke-width="1.5" filter="url(#gblur)"/>
</g>
<text x="101.2" y="28.0" font-size="9.4" font-style="italic" fill="#4ae44a">OK6&gt;CsChrimson::Venus</text>
<g transform="translate(260.0 15.0)"><use href="#purpbg"/></g>
<text x="261.6" y="27.7" font-size="9.3" fill="#e444e4">Phalloidin</text>
<text x="319.3" y="245.8" font-size="7" font-weight="bold" fill="#e048e0" text-anchor="middle" transform="rotate(-90 319.3 245.8)">VLM 6</text>
<text x="362.3" y="245.8" font-size="7" font-weight="bold" fill="#e048e0" text-anchor="middle" transform="rotate(-90 362.3 245.8)">VLM 7</text>
<g transform="translate(414.5 15.0)"><use href="#purpbg"/></g>
<rect x="414.5" y="15.0" width="123.5" height="252.5" fill="#ff10ff" opacity="0.08"/>
<g transform="translate(414.5 15.0)" clip-path="url(#cp1)">
<g fill="none" stroke="#b8b0c0" stroke-width="0.8" opacity="0.5" filter="url(#gblur)"><path d="M25.3 19.0 C26.4 18.5 29.1 16.7 31.9 16.0 C34.7 15.3 38.9 14.6 42.1 14.6 C45.2 14.6 48.1 15.8 50.8 16.0 C53.5 16.1 56.1 15.0 58.1 15.5 C60.0 16.0 61.4 17.1 62.5 19.0 C63.6 20.9 64.3 23.5 65.0 27.0 C65.7 30.5 66.0 36.0 66.5 40.0 C67.0 44.0 67.7 47.5 68.0 51.0 C68.3 54.5 68.7 57.8 68.5 61.0 C68.3 64.2 67.7 67.8 66.9 70.1 C66.2 72.3 65.5 72.8 64.0 74.5 C62.5 76.2 59.1 79.3 58.1 80.3"/>
<path d="M36.2 24.1 C37.2 24.3 39.9 25.9 42.1 25.5 C44.3 25.1 47.2 21.9 49.4 21.9 C51.6 21.9 53.2 24.3 55.2 25.5 C57.1 26.7 58.9 28.6 61.1 29.2 C63.3 29.8 66.7 28.7 68.4 29.2 C70.1 29.7 70.7 30.3 71.3 32.1 C71.9 33.9 71.8 36.8 72.0 40.0 C72.2 43.2 72.4 46.8 72.7 51.1 C72.9 55.4 73.2 60.8 73.5 65.7 C73.8 70.6 73.8 76.7 74.2 80.3 C74.6 83.9 75.2 85.1 75.7 87.6 C76.2 90.0 76.8 93.8 77.0 95.0"/>
<path d="M79.5 93.0 C79.8 94.6 80.4 99.5 81.5 102.5 C82.6 105.5 84.7 108.1 85.9 111.3 C87.1 114.5 87.8 117.4 88.8 121.5 C89.8 125.6 90.7 131.2 91.7 136.1 C92.7 141.0 93.9 146.3 94.6 150.7 C95.3 155.1 95.4 158.8 96.1 162.4 C96.8 166.1 98.4 170.0 99.0 172.6 C99.6 175.2 99.8 176.9 99.9 177.8"/>
<path d="M77.0 105.0 C76.8 106.5 76.2 109.0 75.7 114.2 C75.2 119.4 74.2 130.0 74.2 136.1 C74.2 142.2 75.4 148.3 75.7 150.7"/>
<path d="M77.1 152.2 C76.1 153.6 73.3 158.2 71.3 160.9 C69.4 163.6 67.1 165.4 65.4 168.2 C63.7 171.0 63.1 174.9 61.3 177.8 C59.6 180.8 57.0 183.5 54.9 185.9 C52.8 188.3 51.2 190.4 48.5 192.3 C45.8 194.2 42.3 195.8 38.8 197.1 C35.3 198.4 31.3 199.1 27.6 200.3 C23.8 201.5 18.2 203.6 16.3 204.3"/>
<path d="M60.5 175.0 C59.8 177.3 58.0 185.3 56.5 189.0 C55.0 192.7 54.1 194.9 51.7 197.1 C49.3 199.2 45.2 200.4 42.0 201.9 C38.8 203.4 35.3 204.9 32.4 206.0 C29.5 207.1 26.3 207.2 24.4 208.4 C22.5 209.6 21.7 212.4 21.2 213.2"/>
<path d="M74.2 206.8 C73.1 207.9 69.8 211.6 67.7 213.2 C65.5 214.8 63.7 214.9 61.3 216.4 C58.9 217.9 54.6 221.1 53.3 222.0"/>
<path d="M77.5 190.0 C77.8 191.7 78.9 196.7 79.5 200.0 C80.1 203.3 80.8 206.7 81.0 210.0 C81.2 213.3 80.9 217.0 80.5 220.0 C80.1 223.0 78.8 226.7 78.5 228.0"/>
<path d="M70.4 211.6 C69.2 212.3 66.0 214.3 63.5 216.0 C60.9 217.7 56.5 220.8 55.1 221.8"/></g>
<g fill="#a0aca0" opacity="0.7" filter="url(#gblur)"><circle cx="26.2" cy="17.3" r="0.75"/>
<circle cx="27.7" cy="16.6" r="1.20"/>
<circle cx="29.9" cy="16.8" r="0.94"/>
<circle cx="33.7" cy="16.7" r="1.08"/>
<circle cx="35.7" cy="15.3" r="1.30"/>
<circle cx="37.9" cy="16.5" r="0.62"/>
<circle cx="40.4" cy="16.0" r="0.62"/>
<circle cx="44.0" cy="14.3" r="1.18"/>
<circle cx="44.8" cy="13.8" r="0.78"/>
<circle cx="49.3" cy="14.6" r="1.36"/>
<circle cx="52.0" cy="17.4" r="0.94"/>
<circle cx="50.6" cy="16.1" r="1.38"/>
<circle cx="53.1" cy="16.6" r="1.40"/>
<circle cx="57.4" cy="14.1" r="1.55"/>
<circle cx="58.0" cy="15.9" r="1.21"/>
<circle cx="62.9" cy="17.7" r="1.52"/>
<circle cx="62.7" cy="18.4" r="0.92"/>
<circle cx="62.5" cy="20.9" r="0.75"/>
<circle cx="65.0" cy="26.7" r="0.76"/>
<circle cx="63.8" cy="30.9" r="1.13"/>
<circle cx="65.2" cy="30.8" r="1.19"/>
<circle cx="66.7" cy="32.5" r="1.02"/>
<circle cx="64.7" cy="38.2" r="0.63"/>
<circle cx="66.2" cy="38.8" r="0.73"/>
<circle cx="67.4" cy="42.8" r="1.23"/>
<circle cx="67.8" cy="41.2" r="1.03"/>
<circle cx="66.0" cy="45.5" r="0.89"/>
<circle cx="67.5" cy="50.1" r="1.45"/>
<circle cx="69.3" cy="49.1" r="1.09"/>
<circle cx="68.8" cy="51.5" r="0.89"/>
<circle cx="67.9" cy="54.8" r="0.98"/>
<circle cx="69.9" cy="59.7" r="1.23"/>
<circle cx="68.4" cy="58.7" r="0.69"/>
<circle cx="67.4" cy="64.1" r="1.47"/>
<circle cx="67.4" cy="65.4" r="1.37"/>
<circle cx="68.1" cy="67.6" r="1.36"/>
<circle cx="66.8" cy="68.9" r="0.88"/>
<circle cx="65.5" cy="73.0" r="1.29"/>
<circle cx="63.8" cy="75.2" r="1.25"/>
<circle cx="62.4" cy="74.8" r="1.15"/>
<circle cx="59.5" cy="78.7" r="1.06"/>
<circle cx="60.5" cy="79.4" r="1.40"/>
<circle cx="36.2" cy="23.4" r="0.64"/>
<circle cx="40.9" cy="24.9" r="1.21"/>
<circle cx="44.2" cy="23.8" r="1.50"/>
<circle cx="45.0" cy="23.0" r="0.88"/>
<circle cx="47.5" cy="21.4" r="1.43"/>
<circle cx="50.6" cy="21.4" r="1.21"/>
<circle cx="51.7" cy="24.3" r="0.94"/>
<circle cx="54.9" cy="26.6" r="1.42"/>
<circle cx="56.9" cy="27.7" r="1.24"/>
<circle cx="58.6" cy="26.8" r="1.20"/>
<circle cx="60.4" cy="30.1" r="1.57"/>
<circle cx="62.7" cy="28.7" r="1.49"/>
<circle cx="62.3" cy="27.9" r="1.17"/>
<circle cx="68.4" cy="28.1" r="1.23"/>
<circle cx="72.4" cy="31.5" r="1.03"/>
<circle cx="70.5" cy="32.7" r="1.57"/>
<circle cx="71.3" cy="38.0" r="1.51"/>
<circle cx="72.2" cy="38.5" r="1.58"/>
<circle cx="72.1" cy="41.4" r="0.92"/>
<circle cx="73.7" cy="42.6" r="0.89"/>
<circle cx="72.3" cy="45.0" r="1.22"/>
<circle cx="72.3" cy="47.3" r="1.38"/>
<circle cx="73.7" cy="48.8" r="1.13"/>
<circle cx="72.0" cy="53.5" r="1.38"/>
<circle cx="72.1" cy="54.3" r="0.75"/>
<circle cx="74.6" cy="57.2" r="1.21"/>
<circle cx="73.1" cy="60.4" r="1.20"/>
<circle cx="74.1" cy="61.4" r="1.36"/>
<circle cx="72.7" cy="63.4" r="0.94"/>
<circle cx="72.9" cy="66.2" r="1.06"/>
<circle cx="73.2" cy="70.0" r="1.19"/>
<circle cx="72.3" cy="71.4" r="1.06"/>
<circle cx="75.2" cy="74.8" r="1.15"/>
<circle cx="72.5" cy="78.0" r="1.03"/>
<circle cx="74.4" cy="80.1" r="1.23"/>
<circle cx="74.2" cy="81.7" r="0.99"/>
<circle cx="74.6" cy="85.0" r="0.80"/>
<circle cx="74.7" cy="86.8" r="0.67"/>
<circle cx="76.8" cy="88.4" r="1.03"/>
<circle cx="75.5" cy="91.3" r="1.51"/>
<circle cx="75.6" cy="93.2" r="1.15"/>
<circle cx="80.5" cy="95.4" r="0.73"/>
<circle cx="79.9" cy="95.6" r="1.20"/>
<circle cx="80.5" cy="99.5" r="0.97"/>
<circle cx="79.9" cy="102.1" r="0.75"/>
<circle cx="82.8" cy="104.3" r="1.51"/>
<circle cx="82.9" cy="105.2" r="0.86"/>
<circle cx="84.1" cy="106.6" r="1.35"/>
<circle cx="85.8" cy="109.7" r="0.83"/>
<circle cx="86.1" cy="114.1" r="0.78"/>
<circle cx="87.8" cy="116.0" r="0.69"/>
<circle cx="87.9" cy="115.2" r="0.72"/>
<circle cx="88.9" cy="120.0" r="1.48"/>
<circle cx="89.2" cy="123.3" r="1.40"/>
<circle cx="88.3" cy="127.1" r="0.65"/>
<circle cx="89.0" cy="129.5" r="1.28"/>
<circle cx="89.4" cy="127.7" r="1.57"/>
<circle cx="91.7" cy="134.3" r="0.74"/>
<circle cx="91.7" cy="133.7" r="0.84"/>
<circle cx="91.5" cy="138.0" r="0.95"/>
<circle cx="92.3" cy="139.7" r="1.43"/>
<circle cx="93.5" cy="143.7" r="1.03"/>
<circle cx="94.3" cy="143.8" r="1.19"/>
<circle cx="94.0" cy="147.3" r="1.00"/>
<circle cx="93.3" cy="149.0" r="0.80"/>
<circle cx="93.2" cy="152.3" r="1.08"/>
<circle cx="95.9" cy="152.9" r="1.07"/>
<circle cx="96.6" cy="156.7" r="1.03"/>
<circle cx="95.4" cy="156.8" r="0.75"/>
<circle cx="94.9" cy="161.1" r="0.99"/>
<circle cx="97.3" cy="161.4" r="0.85"/>
<circle cx="96.2" cy="164.1" r="0.89"/>
<circle cx="97.0" cy="168.4" r="0.63"/>
<circle cx="99.7" cy="169.8" r="1.54"/>
<circle cx="99.6" cy="173.3" r="1.07"/>
<circle cx="101.1" cy="175.5" r="1.27"/>
<circle cx="78.3" cy="106.1" r="1.03"/>
<circle cx="78.0" cy="107.3" r="0.66"/>
<circle cx="77.0" cy="111.0" r="0.64"/>
<circle cx="76.1" cy="113.8" r="1.12"/>
<circle cx="75.2" cy="113.4" r="0.67"/>
<circle cx="76.8" cy="116.7" r="1.54"/>
<circle cx="73.9" cy="118.8" r="0.65"/>
<circle cx="74.9" cy="120.3" r="0.86"/>
<circle cx="74.7" cy="124.3" r="0.65"/>
<circle cx="73.2" cy="130.2" r="0.78"/>
<circle cx="74.7" cy="129.4" r="1.13"/>
<circle cx="73.2" cy="131.4" r="0.71"/>
<circle cx="74.4" cy="136.2" r="1.20"/>
<circle cx="75.4" cy="135.9" r="0.62"/>
<circle cx="74.8" cy="140.3" r="1.17"/>
<circle cx="74.5" cy="143.1" r="1.33"/>
<circle cx="76.3" cy="143.2" r="1.05"/>
<circle cx="76.3" cy="145.5" r="0.72"/>
<circle cx="75.0" cy="148.6" r="1.37"/>
<circle cx="74.5" cy="152.9" r="0.86"/>
<circle cx="75.8" cy="154.4" r="0.66"/>
<circle cx="74.9" cy="157.0" r="0.63"/>
<circle cx="71.2" cy="157.7" r="0.96"/>
<circle cx="72.1" cy="162.8" r="1.21"/>
<circle cx="68.8" cy="162.7" r="0.96"/>
<circle cx="67.2" cy="163.8" r="1.18"/>
<circle cx="67.1" cy="168.2" r="0.70"/>
<circle cx="65.2" cy="167.7" r="1.31"/>
<circle cx="64.1" cy="172.2" r="1.39"/>
<circle cx="61.4" cy="174.1" r="1.51"/>
<circle cx="62.2" cy="175.3" r="1.04"/>
<circle cx="61.8" cy="179.6" r="1.13"/>
<circle cx="60.7" cy="180.7" r="0.70"/>
<circle cx="58.5" cy="182.3" r="0.65"/>
<circle cx="57.9" cy="182.6" r="1.18"/>
<circle cx="54.2" cy="187.8" r="0.99"/>
<circle cx="51.9" cy="187.3" r="0.80"/>
<circle cx="50.7" cy="189.8" r="1.35"/>
<circle cx="48.4" cy="191.1" r="0.85"/>
<circle cx="47.9" cy="194.5" r="1.45"/>
<circle cx="44.9" cy="194.0" r="0.74"/>
<circle cx="42.9" cy="195.6" r="0.64"/>
<circle cx="38.8" cy="195.3" r="1.32"/>
<circle cx="39.1" cy="196.4" r="1.40"/>
<circle cx="34.2" cy="198.8" r="1.46"/>
<circle cx="33.2" cy="199.8" r="0.98"/>
<circle cx="28.4" cy="199.7" r="1.19"/>
<circle cx="27.2" cy="199.8" r="0.92"/>
<circle cx="24.5" cy="200.3" r="0.98"/>
<circle cx="24.7" cy="202.0" r="1.00"/>
<circle cx="22.8" cy="203.6" r="1.52"/>
<circle cx="20.6" cy="203.6" r="1.14"/>
<circle cx="19.2" cy="203.2" r="1.19"/>
<circle cx="60.1" cy="177.9" r="0.84"/>
<circle cx="61.0" cy="178.7" r="0.99"/>
<circle cx="57.4" cy="180.0" r="0.78"/>
<circle cx="58.9" cy="183.5" r="1.51"/>
<circle cx="58.1" cy="184.2" r="0.71"/>
<circle cx="57.5" cy="187.7" r="1.32"/>
<circle cx="55.4" cy="191.4" r="0.81"/>
<circle cx="53.8" cy="191.8" r="1.22"/>
<circle cx="54.5" cy="193.4" r="1.23"/>
<circle cx="53.4" cy="194.8" r="0.66"/>
<circle cx="49.7" cy="199.3" r="1.48"/>
<circle cx="49.3" cy="198.4" r="1.03"/>
<circle cx="45.2" cy="201.7" r="0.90"/>
<circle cx="43.5" cy="201.1" r="1.57"/>
<circle cx="39.2" cy="201.2" r="0.72"/>
<circle cx="38.2" cy="203.9" r="0.78"/>
<circle cx="33.9" cy="205.2" r="1.25"/>
<circle cx="33.3" cy="206.6" r="0.66"/>
<circle cx="30.5" cy="207.6" r="1.56"/>
<circle cx="26.9" cy="208.6" r="1.25"/>
<circle cx="26.5" cy="207.3" r="1.30"/>
<circle cx="24.5" cy="209.8" r="0.70"/>
<circle cx="21.5" cy="210.2" r="0.69"/>
<circle cx="75.4" cy="205.8" r="0.70"/>
<circle cx="70.2" cy="208.4" r="0.97"/>
<circle cx="70.6" cy="210.7" r="1.34"/>
<circle cx="66.8" cy="212.5" r="1.14"/>
<circle cx="65.7" cy="212.8" r="1.20"/>
<circle cx="63.4" cy="215.7" r="1.10"/>
<circle cx="63.2" cy="217.6" r="0.67"/>
<circle cx="60.7" cy="218.1" r="0.90"/>
<circle cx="56.2" cy="219.0" r="0.95"/>
<circle cx="56.1" cy="221.9" r="0.98"/>
<circle cx="53.4" cy="221.5" r="1.30"/>
<circle cx="78.0" cy="191.6" r="1.53"/>
<circle cx="77.0" cy="193.5" r="1.41"/>
<circle cx="77.1" cy="196.6" r="0.96"/>
<circle cx="77.6" cy="197.5" r="1.06"/>
<circle cx="79.4" cy="202.2" r="0.65"/>
<circle cx="79.2" cy="205.3" r="1.04"/>
<circle cx="80.2" cy="203.8" r="0.88"/>
<circle cx="82.2" cy="209.2" r="1.11"/>
<circle cx="79.5" cy="210.3" r="1.38"/>
<circle cx="80.6" cy="214.5" r="1.50"/>
<circle cx="81.2" cy="215.6" r="0.64"/>
<circle cx="79.1" cy="219.0" r="1.01"/>
<circle cx="81.6" cy="221.3" r="1.52"/>
<circle cx="79.1" cy="225.5" r="1.36"/>
<circle cx="79.8" cy="226.8" r="1.38"/>
<circle cx="68.7" cy="212.8" r="0.72"/>
<circle cx="64.8" cy="214.4" r="0.67"/>
<circle cx="63.1" cy="217.3" r="1.49"/>
<circle cx="62.1" cy="214.8" r="1.43"/>
<circle cx="62.0" cy="218.4" r="0.74"/>
<circle cx="57.9" cy="220.6" r="1.54"/>
<circle cx="54.7" cy="220.0" r="1.03"/>
<circle cx="78.0" cy="11.2" r="1.06"/>
<circle cx="79.8" cy="17.2" r="1.32"/>
<circle cx="78.0" cy="17.7" r="1.44"/>
<circle cx="78.2" cy="21.2" r="0.86"/>
<circle cx="78.8" cy="19.7" r="1.36"/>
<circle cx="79.5" cy="25.6" r="1.07"/>
<circle cx="78.4" cy="26.6" r="0.86"/>
<circle cx="80.9" cy="28.2" r="0.69"/>
<circle cx="79.0" cy="28.7" r="1.03"/>
<circle cx="79.9" cy="32.8" r="0.77"/>
<circle cx="78.4" cy="35.7" r="1.29"/>
<circle cx="79.4" cy="37.6" r="1.51"/>
<circle cx="78.4" cy="39.1" r="1.09"/>
<circle cx="79.6" cy="43.8" r="1.16"/>
<circle cx="80.0" cy="45.0" r="1.38"/>
<circle cx="80.5" cy="47.9" r="0.71"/>
<circle cx="78.7" cy="48.8" r="1.49"/>
<circle cx="78.6" cy="52.9" r="1.24"/>
<circle cx="80.8" cy="52.9" r="1.37"/>
<circle cx="78.8" cy="56.0" r="1.23"/>
<circle cx="80.4" cy="60.3" r="0.65"/>
<circle cx="80.7" cy="60.6" r="1.24"/>
<circle cx="79.9" cy="63.2" r="1.01"/>
<circle cx="78.6" cy="65.4" r="0.66"/>
<circle cx="79.8" cy="67.1" r="1.47"/>
<circle cx="77.6" cy="70.7" r="0.78"/>
<circle cx="80.4" cy="73.7" r="1.50"/>
<circle cx="78.9" cy="74.0" r="1.02"/>
<circle cx="78.0" cy="76.2" r="1.16"/>
<circle cx="78.1" cy="79.1" r="1.11"/>
<circle cx="80.1" cy="82.4" r="1.07"/>
<circle cx="77.4" cy="85.1" r="0.71"/>
<circle cx="78.8" cy="84.1" r="1.59"/>
<circle cx="78.7" cy="88.3" r="0.87"/>
<circle cx="78.7" cy="92.2" r="1.03"/>
<circle cx="77.6" cy="92.3" r="1.52"/>
<circle cx="78.2" cy="95.6" r="1.52"/>
<circle cx="78.0" cy="98.8" r="1.13"/>
<circle cx="77.4" cy="99.1" r="1.54"/>
<circle cx="78.4" cy="103.3" r="1.52"/>
<circle cx="78.7" cy="104.5" r="0.88"/>
<circle cx="79.2" cy="106.3" r="1.07"/>
<circle cx="79.3" cy="110.2" r="0.73"/>
<circle cx="77.5" cy="113.3" r="1.33"/>
<circle cx="77.1" cy="116.5" r="0.73"/>
<circle cx="77.3" cy="116.0" r="1.05"/>
<circle cx="78.8" cy="119.2" r="0.76"/>
<circle cx="79.0" cy="118.8" r="1.18"/>
<circle cx="77.5" cy="123.6" r="0.65"/>
<circle cx="79.0" cy="123.2" r="1.36"/>
<circle cx="77.8" cy="127.8" r="1.24"/>
<circle cx="78.3" cy="131.7" r="1.52"/>
<circle cx="77.6" cy="131.7" r="1.48"/>
<circle cx="77.2" cy="133.9" r="1.01"/>
<circle cx="79.9" cy="136.5" r="1.26"/>
<circle cx="79.2" cy="139.3" r="0.60"/>
<circle cx="79.8" cy="140.8" r="1.45"/>
<circle cx="78.9" cy="144.0" r="1.44"/>
<circle cx="79.0" cy="144.4" r="1.33"/>
<circle cx="78.5" cy="148.4" r="1.21"/>
<circle cx="79.4" cy="149.2" r="1.09"/>
<circle cx="76.9" cy="153.6" r="1.37"/>
<circle cx="79.6" cy="152.7" r="1.14"/>
<circle cx="78.5" cy="155.8" r="0.80"/>
<circle cx="80.1" cy="159.5" r="0.84"/>
<circle cx="79.6" cy="161.2" r="0.98"/>
<circle cx="79.1" cy="162.6" r="0.87"/>
<circle cx="77.0" cy="165.8" r="1.18"/>
<circle cx="79.1" cy="169.8" r="1.03"/>
<circle cx="77.7" cy="171.2" r="0.97"/>
<circle cx="78.5" cy="173.7" r="1.04"/>
<circle cx="78.6" cy="175.1" r="0.86"/>
<circle cx="79.0" cy="177.7" r="0.66"/>
<circle cx="76.3" cy="180.9" r="0.71"/>
<circle cx="77.5" cy="183.7" r="1.40"/>
<circle cx="77.5" cy="185.9" r="0.62"/>
<circle cx="78.4" cy="188.5" r="1.22"/>
<circle cx="78.3" cy="190.9" r="1.32"/>
<circle cx="78.2" cy="192.3" r="0.62"/>
<circle cx="78.1" cy="195.8" r="0.80"/>
<circle cx="75.1" cy="197.4" r="0.70"/>
<circle cx="75.9" cy="197.9" r="0.82"/>
<circle cx="74.4" cy="202.3" r="0.90"/>
<circle cx="76.6" cy="202.8" r="0.77"/>
<circle cx="77.1" cy="206.6" r="1.29"/>
<circle cx="74.7" cy="207.1" r="1.05"/>
<circle cx="75.1" cy="209.7" r="1.06"/>
<circle cx="76.1" cy="213.8" r="1.46"/>
<circle cx="75.8" cy="215.0" r="1.47"/>
<circle cx="76.5" cy="217.5" r="1.02"/>
<circle cx="75.4" cy="221.1" r="1.48"/>
<circle cx="75.5" cy="222.0" r="0.79"/>
<circle cx="74.0" cy="224.6" r="1.28"/>
<circle cx="75.4" cy="224.8" r="1.13"/>
<circle cx="75.3" cy="228.9" r="0.69"/>
<circle cx="74.5" cy="230.2" r="0.74"/>
<circle cx="73.2" cy="232.8" r="0.75"/>
<circle cx="73.3" cy="235.3" r="0.61"/>
<circle cx="73.2" cy="240.5" r="1.43"/>
<circle cx="72.2" cy="241.9" r="0.68"/>
<circle cx="70.9" cy="243.3" r="0.66"/>
<circle cx="72.3" cy="246.1" r="1.08"/>
<circle cx="72.4" cy="247.3" r="1.52"/>
<circle cx="71.0" cy="251.4" r="0.77"/></g>
<g fill="#30d030" opacity="0.7" filter="url(#gblur)"><circle cx="29.6" cy="18.5" r="0.92"/>
<circle cx="41.3" cy="13.8" r="1.25"/>
<circle cx="51.4" cy="15.1" r="1.16"/>
<circle cx="53.1" cy="16.9" r="0.77"/>
<circle cx="61.6" cy="19.1" r="1.11"/>
<circle cx="63.8" cy="23.6" r="1.35"/>
<circle cx="65.4" cy="32.5" r="0.71"/>
<circle cx="66.6" cy="35.0" r="1.34"/>
<circle cx="65.4" cy="39.8" r="0.64"/>
<circle cx="68.1" cy="47.3" r="1.37"/>
<circle cx="68.1" cy="59.1" r="1.29"/>
<circle cx="67.5" cy="63.4" r="1.37"/>
<circle cx="65.5" cy="72.0" r="0.81"/>
<circle cx="62.8" cy="75.6" r="1.08"/>
<circle cx="39.8" cy="25.4" r="0.85"/>
<circle cx="45.1" cy="24.7" r="1.33"/>
<circle cx="49.0" cy="22.5" r="1.15"/>
<circle cx="58.9" cy="28.5" r="1.37"/>
<circle cx="68.0" cy="28.9" r="0.76"/>
<circle cx="68.7" cy="29.3" r="0.69"/>
<circle cx="70.8" cy="35.5" r="1.03"/>
<circle cx="73.1" cy="46.1" r="1.25"/>
<circle cx="71.5" cy="49.8" r="0.67"/>
<circle cx="73.5" cy="53.9" r="1.13"/>
<circle cx="72.9" cy="57.5" r="0.67"/>
<circle cx="74.1" cy="70.6" r="1.03"/>
<circle cx="73.4" cy="74.7" r="0.84"/>
<circle cx="75.4" cy="83.7" r="0.91"/>
<circle cx="76.0" cy="89.7" r="1.01"/>
<circle cx="81.3" cy="96.8" r="1.06"/>
<circle cx="86.8" cy="111.1" r="1.09"/>
<circle cx="87.8" cy="120.2" r="1.20"/>
<circle cx="88.7" cy="122.8" r="1.07"/>
<circle cx="90.8" cy="131.2" r="0.75"/>
<circle cx="92.2" cy="138.0" r="1.21"/>
<circle cx="93.6" cy="145.9" r="1.00"/>
<circle cx="94.7" cy="150.8" r="0.61"/>
<circle cx="95.3" cy="162.1" r="1.26"/>
<circle cx="97.7" cy="168.8" r="0.77"/>
<circle cx="98.8" cy="174.8" r="1.16"/>
<circle cx="77.9" cy="106.1" r="0.62"/>
<circle cx="75.6" cy="118.3" r="0.78"/>
<circle cx="75.1" cy="129.0" r="1.24"/>
<circle cx="74.2" cy="132.2" r="1.03"/>
<circle cx="74.2" cy="143.4" r="0.82"/>
<circle cx="74.7" cy="144.2" r="1.26"/>
<circle cx="71.0" cy="160.3" r="1.03"/>
<circle cx="68.3" cy="163.8" r="0.83"/>
<circle cx="64.5" cy="167.7" r="1.14"/>
<circle cx="56.0" cy="183.2" r="0.89"/>
<circle cx="52.0" cy="189.2" r="1.23"/>
<circle cx="40.3" cy="195.4" r="0.95"/>
<circle cx="34.2" cy="198.2" r="1.02"/>
<circle cx="33.6" cy="197.9" r="1.05"/>
<circle cx="22.7" cy="201.8" r="0.85"/>
<circle cx="21.1" cy="203.8" r="1.37"/>
<circle cx="60.3" cy="178.5" r="1.24"/>
<circle cx="56.8" cy="185.7" r="0.80"/>
<circle cx="54.9" cy="189.2" r="0.70"/>
<circle cx="44.8" cy="200.3" r="1.31"/>
<circle cx="34.2" cy="204.3" r="1.34"/>
<circle cx="28.0" cy="206.6" r="1.21"/>
<circle cx="22.9" cy="211.1" r="1.19"/>
<circle cx="72.2" cy="207.9" r="0.68"/>
<circle cx="62.9" cy="216.9" r="1.12"/>
<circle cx="54.6" cy="222.3" r="0.79"/>
<circle cx="77.4" cy="191.1" r="0.92"/>
<circle cx="81.8" cy="208.0" r="0.85"/>
<circle cx="79.5" cy="218.6" r="0.65"/>
<circle cx="80.0" cy="223.5" r="0.94"/>
<circle cx="69.6" cy="213.8" r="1.20"/>
<circle cx="60.3" cy="217.1" r="0.89"/>
<circle cx="78.5" cy="17.2" r="0.67"/>
<circle cx="79.0" cy="24.2" r="0.81"/>
<circle cx="79.0" cy="25.4" r="0.81"/>
<circle cx="79.7" cy="34.9" r="0.62"/>
<circle cx="79.6" cy="39.4" r="1.33"/>
<circle cx="79.9" cy="46.6" r="1.09"/>
<circle cx="80.3" cy="53.6" r="1.21"/>
<circle cx="78.3" cy="62.3" r="0.98"/>
<circle cx="78.6" cy="69.4" r="0.99"/>
<circle cx="80.0" cy="74.4" r="1.25"/>
<circle cx="77.9" cy="78.8" r="0.72"/>
<circle cx="78.4" cy="84.6" r="1.37"/>
<circle cx="77.5" cy="91.1" r="0.69"/>
<circle cx="79.1" cy="93.4" r="0.76"/>
<circle cx="79.2" cy="103.5" r="1.31"/>
<circle cx="77.9" cy="111.0" r="0.68"/>
<circle cx="77.4" cy="112.4" r="0.85"/>
<circle cx="78.7" cy="118.9" r="0.86"/>
<circle cx="77.2" cy="124.8" r="0.60"/>
<circle cx="78.2" cy="134.8" r="1.03"/>
<circle cx="78.0" cy="138.9" r="1.21"/>
<circle cx="79.3" cy="141.3" r="1.12"/>
<circle cx="78.0" cy="153.7" r="1.18"/>
<circle cx="78.8" cy="158.9" r="1.21"/>
<circle cx="77.6" cy="163.7" r="0.63"/>
<circle cx="77.6" cy="169.0" r="1.06"/>
<circle cx="77.4" cy="173.4" r="0.94"/>
<circle cx="76.9" cy="180.3" r="0.90"/>
<circle cx="76.3" cy="189.0" r="0.93"/>
<circle cx="77.6" cy="192.4" r="0.79"/>
<circle cx="75.7" cy="204.4" r="0.70"/>
<circle cx="76.2" cy="207.4" r="1.26"/>
<circle cx="75.7" cy="213.2" r="1.23"/>
<circle cx="73.9" cy="223.3" r="0.76"/>
<circle cx="74.3" cy="228.7" r="0.95"/>
<circle cx="74.1" cy="237.8" r="0.76"/>
<circle cx="71.0" cy="244.1" r="0.64"/></g>
<path d="M79.3 12.0 C79.4 16.1 79.6 28.8 79.6 36.5 C79.6 44.2 79.4 53.7 79.3 58.4 C79.2 63.2 79.0 63.9 79.0 65.0" fill="none" stroke="#a0b0a0" stroke-width="1.0" opacity="0.7" filter="url(#gblur)"/>
<g fill="#a0aca0" opacity="0.6" filter="url(#gblur)"><circle cx="75.9" cy="185.1" r="0.95"/>
<circle cx="73.9" cy="183.0" r="0.70"/>
<circle cx="75.0" cy="191.6" r="0.73"/>
<circle cx="74.3" cy="179.2" r="0.72"/>
<circle cx="71.5" cy="184.1" r="0.97"/>
<circle cx="75.7" cy="185.0" r="0.62"/>
<circle cx="77.1" cy="183.5" r="0.78"/>
<circle cx="73.2" cy="203.3" r="1.46"/>
<circle cx="75.0" cy="202.7" r="1.13"/>
<circle cx="67.9" cy="197.1" r="1.35"/>
<circle cx="73.3" cy="202.1" r="1.35"/>
<circle cx="75.2" cy="199.9" r="1.26"/>
<circle cx="77.3" cy="195.8" r="0.80"/>
<circle cx="75.8" cy="193.9" r="0.77"/>
<circle cx="73.3" cy="212.9" r="0.64"/>
<circle cx="73.2" cy="218.0" r="0.96"/>
<circle cx="71.3" cy="209.1" r="1.47"/>
<circle cx="83.3" cy="213.2" r="1.31"/>
<circle cx="73.9" cy="217.3" r="1.16"/>
<circle cx="70.5" cy="213.3" r="0.68"/>
<circle cx="76.7" cy="223.3" r="1.14"/>
<circle cx="72.1" cy="228.3" r="0.96"/>
<circle cx="75.9" cy="227.0" r="1.49"/>
<circle cx="73.5" cy="234.1" r="1.32"/>
<circle cx="67.9" cy="232.4" r="1.11"/>
<circle cx="73.4" cy="231.2" r="1.48"/>
<circle cx="73.8" cy="231.8" r="0.90"/>
<circle cx="71.2" cy="222.5" r="1.03"/>
<circle cx="63.6" cy="242.1" r="0.85"/>
<circle cx="65.8" cy="245.9" r="1.17"/>
<circle cx="69.8" cy="242.5" r="0.72"/>
<circle cx="67.8" cy="236.0" r="1.48"/>
<circle cx="68.7" cy="239.0" r="1.29"/>
<circle cx="71.1" cy="241.7" r="0.61"/>
<circle cx="66.9" cy="244.3" r="0.76"/></g>
<path d="M79.1 59.0 C79.0 62.0 78.9 72.2 78.8 77.0 C78.7 81.8 78.7 79.0 78.6 87.6 C78.5 96.2 78.3 115.9 78.3 128.8 C78.3 141.7 78.8 154.9 78.6 165.0 C78.4 175.1 77.9 182.4 77.4 189.1 C76.9 195.8 76.1 199.7 75.7 205.0 C75.3 210.3 75.2 216.0 74.9 221.0 C74.6 226.0 74.1 232.3 73.8 235.0 C73.5 237.7 73.1 236.7 73.0 237.0" fill="none" stroke="#2ee02e" stroke-width="1.6" filter="url(#gblur)"/>
</g>
<text x="417.9" y="27.4" font-size="9.3" fill="#f0f0f0">Merge</text>
<rect x="516" y="255.5" width="16.2" height="4.4" fill="#fff"/>
<text x="57.6" y="15.6" font-size="19.5" font-weight="bold">a</text>
<g class="ch"><text x="0.1" y="293.2" font-size="18" font-weight="bold">b</text>
<text x="136.0" y="290.6" font-size="10" text-anchor="middle" font-style="italic">OK6 > <tspan font-weight="bold">CsChrimson</tspan></text>
<line x1="47.9" y1="359.9" x2="220.0" y2="359.9" stroke="#6c6c6c" stroke-width="1.35" stroke-dasharray="3.8 3.1"/>
<line x1="47.9" y1="467.70" x2="51.5" y2="467.70" stroke="#333" stroke-width="1"/>
<text x="44.0" y="471.30" font-size="10" text-anchor="end">0.0</text>
<line x1="47.9" y1="456.92" x2="50.1" y2="456.92" stroke="#333" stroke-width="1"/>
<line x1="47.9" y1="446.14" x2="51.5" y2="446.14" stroke="#333" stroke-width="1"/>
<text x="44.0" y="449.74" font-size="10" text-anchor="end">0.2</text>
<line x1="47.9" y1="435.36" x2="50.1" y2="435.36" stroke="#333" stroke-width="1"/>
<line x1="47.9" y1="424.57" x2="51.5" y2="424.57" stroke="#333" stroke-width="1"/>
<text x="44.0" y="428.18" font-size="10" text-anchor="end">0.4</text>
<line x1="47.9" y1="413.79" x2="50.1" y2="413.79" stroke="#333" stroke-width="1"/>
<line x1="47.9" y1="403.01" x2="51.5" y2="403.01" stroke="#333" stroke-width="1"/>
<text x="44.0" y="406.61" font-size="10" text-anchor="end">0.6</text>
<line x1="47.9" y1="392.23" x2="50.1" y2="392.23" stroke="#333" stroke-width="1"/>
<line x1="47.9" y1="381.45" x2="51.5" y2="381.45" stroke="#333" stroke-width="1"/>
<text x="44.0" y="385.05" font-size="10" text-anchor="end">0.8</text>
<line x1="47.9" y1="370.67" x2="50.1" y2="370.67" stroke="#333" stroke-width="1"/>
<line x1="47.9" y1="359.89" x2="51.5" y2="359.89" stroke="#333" stroke-width="1"/>
<text x="44.0" y="363.49" font-size="10" text-anchor="end">1.0</text>
<line x1="47.9" y1="349.11" x2="50.1" y2="349.11" stroke="#333" stroke-width="1"/>
<line x1="47.9" y1="338.32" x2="51.5" y2="338.32" stroke="#333" stroke-width="1"/>
<text x="44.0" y="341.92" font-size="10" text-anchor="end">1.2</text>
<line x1="47.9" y1="327.54" x2="50.1" y2="327.54" stroke="#333" stroke-width="1"/>
<line x1="47.9" y1="316.76" x2="51.5" y2="316.76" stroke="#333" stroke-width="1"/>
<text x="44.0" y="320.36" font-size="10" text-anchor="end">1.4</text>
<line x1="47.9" y1="305.98" x2="50.1" y2="305.98" stroke="#333" stroke-width="1"/>
<line x1="47.9" y1="295.20" x2="51.5" y2="295.20" stroke="#333" stroke-width="1"/>
<text x="44.0" y="298.80" font-size="10" text-anchor="end">1.6</text>
<line x1="69.41" y1="467.7" x2="69.41" y2="464.5" stroke="#333" stroke-width="1"/>
<line x1="112.44" y1="467.7" x2="112.44" y2="464.5" stroke="#333" stroke-width="1"/>
<line x1="155.46" y1="467.7" x2="155.46" y2="464.5" stroke="#333" stroke-width="1"/>
<line x1="198.49" y1="467.7" x2="198.49" y2="464.5" stroke="#333" stroke-width="1"/>
<rect x="47.9" y="295.2" width="172.10" height="172.50" fill="none" stroke="#333" stroke-width="1.1"/>
<text x="69.41" y="480.0" font-size="10" text-anchor="middle">Red</text>
<text x="112.44" y="480.0" font-size="10" text-anchor="middle">Green</text>
<text x="155.46" y="480.0" font-size="10" text-anchor="middle">Blue</text>
<text x="198.49" y="480.0" font-size="10" text-anchor="middle">White</text>
<text x="21.0" y="381.45" font-size="10" text-anchor="middle" transform="rotate(-90 21.0 381.45)" dx="0">Normalised speed</text>
<text x="212.6" y="305.7" font-size="10" text-anchor="end"><tspan font-style="italic">N</tspan> = 11</text>
<text x="71.1" y="318.1" font-size="10" text-anchor="middle" style="stroke:#111;stroke-width:0.3px" letter-spacing="0.5">**</text>
<text x="113.0" y="318.0" font-size="10" text-anchor="middle" style="stroke:#111;stroke-width:0.3px" letter-spacing="0.5">**</text>
<text x="156.6" y="315.7" font-size="10" text-anchor="middle">ns</text>
<text x="199.9" y="318.1" font-size="10" text-anchor="middle" style="stroke:#111;stroke-width:0.3px" letter-spacing="0.5">**</text>
<line x1="69.41" y1="381.7" x2="69.41" y2="399.6" stroke="#ff3340" stroke-width="1.7"/>
<line x1="60.11" y1="381.7" x2="78.71" y2="381.7" stroke="#ff3340" stroke-width="1.7"/>
<line x1="60.11" y1="399.6" x2="78.71" y2="399.6" stroke="#ff3340" stroke-width="1.7"/>
<path d="M69.41 387.50L74.16 392.00L69.41 396.50L64.66 392.00Z" fill="#ff3340"/>
<line x1="112.44" y1="374.0" x2="112.44" y2="383.2" stroke="#0cdc0c" stroke-width="1.7"/>
<line x1="103.14" y1="374.0" x2="121.74" y2="374.0" stroke="#0cdc0c" stroke-width="1.7"/>
<line x1="103.14" y1="383.2" x2="121.74" y2="383.2" stroke="#0cdc0c" stroke-width="1.7"/>
<path d="M112.44 374.00L117.19 378.50L112.44 383.00L107.69 378.50Z" fill="#0cdc0c"/>
<line x1="155.46" y1="357.1" x2="155.46" y2="371.9" stroke="#14a2ff" stroke-width="1.7"/>
<line x1="146.16" y1="357.1" x2="164.76" y2="357.1" stroke="#14a2ff" stroke-width="1.7"/>
<line x1="146.16" y1="371.9" x2="164.76" y2="371.9" stroke="#14a2ff" stroke-width="1.7"/>
<path d="M155.46 360.00L160.21 364.50L155.46 369.00L150.71 364.50Z" fill="#14a2ff"/>
<line x1="198.49" y1="380.4" x2="198.49" y2="396.4" stroke="#c6c6c6" stroke-width="1.7"/>
<line x1="189.19" y1="380.4" x2="207.79" y2="380.4" stroke="#c6c6c6" stroke-width="1.7"/>
<line x1="189.19" y1="396.4" x2="207.79" y2="396.4" stroke="#c6c6c6" stroke-width="1.7"/>
<path d="M198.49 384.30L203.24 388.80L198.49 393.30L193.74 388.80Z" fill="#c6c6c6"/>
<circle cx="62.4" cy="361.5" r="1.9" fill="#f2434a" stroke="#5a1010" stroke-width="0.7"/>
<circle cx="57.8" cy="368.7" r="1.9" fill="#f2434a" stroke="#5a1010" stroke-width="0.7"/>
<circle cx="71.6" cy="365.9" r="1.9" fill="#f2434a" stroke="#5a1010" stroke-width="0.7"/>
<circle cx="76.2" cy="371.8" r="1.9" fill="#f2434a" stroke="#5a1010" stroke-width="0.7"/>
<circle cx="66.8" cy="375.6" r="1.9" fill="#f2434a" stroke="#5a1010" stroke-width="0.7"/>
<circle cx="80.9" cy="378.7" r="1.9" fill="#f2434a" stroke="#5a1010" stroke-width="0.7"/>
<circle cx="67.1" cy="388.8" r="1.9" fill="#f2434a" stroke="#5a1010" stroke-width="0.7"/>
<circle cx="71.6" cy="388.8" r="1.9" fill="#f2434a" stroke="#5a1010" stroke-width="0.7"/>
<circle cx="69.3" cy="409.2" r="1.9" fill="#f2434a" stroke="#5a1010" stroke-width="0.7"/>
<circle cx="69.3" cy="440.9" r="1.9" fill="#f2434a" stroke="#5a1010" stroke-width="0.7"/>
<circle cx="69.3" cy="447.8" r="1.9" fill="#f2434a" stroke="#5a1010" stroke-width="0.7"/>
<circle cx="112.3" cy="344.8" r="1.9" fill="#1ad61a" stroke="#083a08" stroke-width="0.7"/>
<circle cx="109.9" cy="363.4" r="1.9" fill="#1ad61a" stroke="#083a08" stroke-width="0.7"/>
<circle cx="114.5" cy="371.2" r="1.9" fill="#1ad61a" stroke="#083a08" stroke-width="0.7"/>
<circle cx="119.2" cy="369.8" r="1.9" fill="#1ad61a" stroke="#083a08" stroke-width="0.7"/>
<circle cx="105.5" cy="380.7" r="1.9" fill="#1ad61a" stroke="#083a08" stroke-width="0.7"/>
<circle cx="114.5" cy="382.2" r="1.9" fill="#1ad61a" stroke="#083a08" stroke-width="0.7"/>
<circle cx="109.9" cy="384.1" r="1.9" fill="#1ad61a" stroke="#083a08" stroke-width="0.7"/>
<circle cx="101" cy="385.8" r="1.9" fill="#1ad61a" stroke="#083a08" stroke-width="0.7"/>
<circle cx="119.2" cy="388.8" r="1.9" fill="#1ad61a" stroke="#083a08" stroke-width="0.7"/>
<circle cx="123.8" cy="388.8" r="1.9" fill="#1ad61a" stroke="#083a08" stroke-width="0.7"/>
<circle cx="105.5" cy="402.9" r="1.9" fill="#1ad61a" stroke="#083a08" stroke-width="0.7"/>
<circle cx="160" cy="327" r="1.9" fill="#1ea4fa" stroke="#07243c" stroke-width="0.7"/>
<circle cx="150.8" cy="334.1" r="1.9" fill="#1ea4fa" stroke="#07243c" stroke-width="0.7"/>
<circle cx="164.6" cy="341.1" r="1.9" fill="#1ea4fa" stroke="#07243c" stroke-width="0.7"/>
<circle cx="155.3" cy="351.7" r="1.9" fill="#1ea4fa" stroke="#07243c" stroke-width="0.7"/>
<circle cx="146.2" cy="356.5" r="1.9" fill="#1ea4fa" stroke="#07243c" stroke-width="0.7"/>
<circle cx="155.3" cy="364.7" r="1.9" fill="#1ea4fa" stroke="#07243c" stroke-width="0.7"/>
<circle cx="164.6" cy="375.3" r="1.9" fill="#1ea4fa" stroke="#07243c" stroke-width="0.7"/>
<circle cx="146.2" cy="379.6" r="1.9" fill="#1ea4fa" stroke="#07243c" stroke-width="0.7"/>
<circle cx="146.2" cy="387.7" r="1.9" fill="#1ea4fa" stroke="#07243c" stroke-width="0.7"/>
<circle cx="155.3" cy="394.6" r="1.9" fill="#1ea4fa" stroke="#07243c" stroke-width="0.7"/>
<circle cx="164.6" cy="396.1" r="1.9" fill="#1ea4fa" stroke="#07243c" stroke-width="0.7"/>
<circle cx="198.4" cy="356.5" r="1.9" fill="#d4d4d4" stroke="#4a4a4a" stroke-width="0.7"/>
<circle cx="208.8" cy="364.7" r="1.9" fill="#d4d4d4" stroke="#4a4a4a" stroke-width="0.7"/>
<circle cx="188" cy="369.8" r="1.9" fill="#d4d4d4" stroke="#4a4a4a" stroke-width="0.7"/>
<circle cx="201.8" cy="377" r="1.9" fill="#d4d4d4" stroke="#4a4a4a" stroke-width="0.7"/>
<circle cx="194.9" cy="379.8" r="1.9" fill="#d4d4d4" stroke="#4a4a4a" stroke-width="0.7"/>
<circle cx="194.9" cy="385.3" r="1.9" fill="#d4d4d4" stroke="#4a4a4a" stroke-width="0.7"/>
<circle cx="188" cy="389.2" r="1.9" fill="#d4d4d4" stroke="#4a4a4a" stroke-width="0.7"/>
<circle cx="208.8" cy="387.3" r="1.9" fill="#d4d4d4" stroke="#4a4a4a" stroke-width="0.7"/>
<circle cx="201.8" cy="398.2" r="1.9" fill="#d4d4d4" stroke="#4a4a4a" stroke-width="0.7"/>
<circle cx="198.4" cy="413.7" r="1.9" fill="#d4d4d4" stroke="#4a4a4a" stroke-width="0.7"/>
<circle cx="198.4" cy="452.2" r="1.9" fill="#d4d4d4" stroke="#4a4a4a" stroke-width="0.7"/></g>
<g class="ch"><text x="242.6" y="292.8" font-size="18" font-weight="bold">c</text>
<text x="372.2" y="294.0" font-size="10" text-anchor="middle" font-style="italic">OK6 > <tspan font-weight="bold">ChR2<tspan font-size="6.6" dy="-4.3">XXL</tspan></tspan></text>
<line x1="284.6" y1="401.3" x2="457.3" y2="401.3" stroke="#222" stroke-width="1.35" stroke-dasharray="3.6 3.3"/>
<line x1="284.6" y1="470.30" x2="288.20000000000005" y2="470.30" stroke="#111" stroke-width="1"/>
<text x="280.70000000000005" y="473.90" font-size="10" text-anchor="end">0.0</text>
<line x1="284.6" y1="459.96" x2="286.8" y2="459.96" stroke="#111" stroke-width="1"/>
<line x1="284.6" y1="449.62" x2="288.20000000000005" y2="449.62" stroke="#111" stroke-width="1"/>
<text x="280.70000000000005" y="453.22" font-size="10" text-anchor="end">0.3</text>
<line x1="284.6" y1="439.29" x2="286.8" y2="439.29" stroke="#111" stroke-width="1"/>
<line x1="284.6" y1="428.95" x2="288.20000000000005" y2="428.95" stroke="#111" stroke-width="1"/>
<text x="280.70000000000005" y="432.55" font-size="10" text-anchor="end">0.6</text>
<line x1="284.6" y1="418.61" x2="286.8" y2="418.61" stroke="#111" stroke-width="1"/>
<line x1="284.6" y1="408.27" x2="288.20000000000005" y2="408.27" stroke="#111" stroke-width="1"/>
<text x="280.70000000000005" y="411.87" font-size="10" text-anchor="end">0.9</text>
<line x1="284.6" y1="397.93" x2="286.8" y2="397.93" stroke="#111" stroke-width="1"/>
<line x1="284.6" y1="387.60" x2="288.20000000000005" y2="387.60" stroke="#111" stroke-width="1"/>
<text x="280.70000000000005" y="391.20" font-size="10" text-anchor="end">1.2</text>
<line x1="284.6" y1="377.26" x2="286.8" y2="377.26" stroke="#111" stroke-width="1"/>
<line x1="284.6" y1="366.92" x2="288.20000000000005" y2="366.92" stroke="#111" stroke-width="1"/>
<text x="280.70000000000005" y="370.52" font-size="10" text-anchor="end">1.5</text>
<line x1="284.6" y1="356.58" x2="286.8" y2="356.58" stroke="#111" stroke-width="1"/>
<line x1="284.6" y1="346.24" x2="288.20000000000005" y2="346.24" stroke="#111" stroke-width="1"/>
<text x="280.70000000000005" y="349.84" font-size="10" text-anchor="end">1.8</text>
<line x1="284.6" y1="335.91" x2="286.8" y2="335.91" stroke="#111" stroke-width="1"/>
<line x1="284.6" y1="325.57" x2="288.20000000000005" y2="325.57" stroke="#111" stroke-width="1"/>
<text x="280.70000000000005" y="329.17" font-size="10" text-anchor="end">2.1</text>
<line x1="284.6" y1="315.23" x2="286.8" y2="315.23" stroke="#111" stroke-width="1"/>
<line x1="284.6" y1="304.89" x2="288.20000000000005" y2="304.89" stroke="#111" stroke-width="1"/>
<text x="280.70000000000005" y="308.49" font-size="10" text-anchor="end">2.4</text>
<line x1="306.19" y1="470.3" x2="306.19" y2="467.1" stroke="#111" stroke-width="1"/>
<line x1="349.36" y1="470.3" x2="349.36" y2="467.1" stroke="#111" stroke-width="1"/>
<line x1="392.54" y1="470.3" x2="392.54" y2="467.1" stroke="#111" stroke-width="1"/>
<line x1="435.71" y1="470.3" x2="435.71" y2="467.1" stroke="#111" stroke-width="1"/>
<rect x="284.6" y="298.0" width="172.70" height="172.30" fill="none" stroke="#111" stroke-width="1.1"/>
<text x="306.19" y="481.5" font-size="10" text-anchor="middle">Red</text>
<text x="349.36" y="481.5" font-size="10" text-anchor="middle">Green</text>
<text x="392.54" y="481.5" font-size="10" text-anchor="middle">Blue</text>
<text x="435.71" y="481.5" font-size="10" text-anchor="middle">White</text>
<text x="258.0" y="384.15" font-size="10" text-anchor="middle" transform="rotate(-90 258.0 384.15)" dx="0">Normalised speed</text>
<text x="450.8" y="307.6" font-size="10" text-anchor="end"><tspan font-style="italic">N</tspan> = 11</text>
<text x="307.3" y="317.6" font-size="10" text-anchor="middle">ns</text>
<text x="349.4" y="319.6" font-size="10" text-anchor="middle" style="stroke:#111;stroke-width:0.3px" letter-spacing="0.5">**</text>
<text x="392.9" y="319.6" font-size="10" text-anchor="middle" style="stroke:#111;stroke-width:0.3px" letter-spacing="0.5">*</text>
<text x="437.0" y="319.6" font-size="10" text-anchor="middle" style="stroke:#111;stroke-width:0.3px" letter-spacing="0.5">**</text>
<line x1="306.19" y1="377.6" x2="306.19" y2="403.5" stroke="#ff3340" stroke-width="1.7"/>
<line x1="296.89" y1="377.6" x2="315.49" y2="377.6" stroke="#ff3340" stroke-width="1.7"/>
<line x1="296.89" y1="403.5" x2="315.49" y2="403.5" stroke="#ff3340" stroke-width="1.7"/>
<path d="M306.19 386.20L310.94 390.70L306.19 395.20L301.44 390.70Z" fill="#ff3340"/>
<line x1="349.36" y1="438.6" x2="349.36" y2="453.4" stroke="#0cdc0c" stroke-width="1.7"/>
<line x1="340.06" y1="438.6" x2="358.66" y2="438.6" stroke="#0cdc0c" stroke-width="1.7"/>
<line x1="340.06" y1="453.4" x2="358.66" y2="453.4" stroke="#0cdc0c" stroke-width="1.7"/>
<path d="M349.36 441.70L354.11 446.20L349.36 450.70L344.61 446.20Z" fill="#0cdc0c"/>
<line x1="392.54" y1="412.8" x2="392.54" y2="427.9" stroke="#14a2ff" stroke-width="1.7"/>
<line x1="383.24" y1="412.8" x2="401.84" y2="412.8" stroke="#14a2ff" stroke-width="1.7"/>
<line x1="383.24" y1="427.9" x2="401.84" y2="427.9" stroke="#14a2ff" stroke-width="1.7"/>
<path d="M392.54 415.90L397.29 420.40L392.54 424.90L387.79 420.40Z" fill="#14a2ff"/>
<line x1="435.71" y1="422.3" x2="435.71" y2="433.9" stroke="#c6c6c6" stroke-width="1.7"/>
<line x1="426.41" y1="422.3" x2="445.01" y2="422.3" stroke="#c6c6c6" stroke-width="1.7"/>
<line x1="426.41" y1="433.9" x2="445.01" y2="433.9" stroke="#c6c6c6" stroke-width="1.7"/>
<path d="M435.71 423.70L440.46 428.20L435.71 432.70L430.96 428.20Z" fill="#c6c6c6"/>
<circle cx="299.2" cy="320.1" r="1.9" fill="#f2434a" stroke="#5a1010" stroke-width="0.7"/>
<circle cx="313" cy="324.7" r="1.9" fill="#f2434a" stroke="#5a1010" stroke-width="0.7"/>
<circle cx="306.1" cy="351.5" r="1.9" fill="#f2434a" stroke="#5a1010" stroke-width="0.7"/>
<circle cx="306.1" cy="385.6" r="1.9" fill="#f2434a" stroke="#5a1010" stroke-width="0.7"/>
<circle cx="313" cy="392.8" r="1.9" fill="#f2434a" stroke="#5a1010" stroke-width="0.7"/>
<circle cx="299.2" cy="395.7" r="1.9" fill="#f2434a" stroke="#5a1010" stroke-width="0.7"/>
<circle cx="313" cy="402.3" r="1.9" fill="#f2434a" stroke="#5a1010" stroke-width="0.7"/>
<circle cx="299.2" cy="412.4" r="1.9" fill="#f2434a" stroke="#5a1010" stroke-width="0.7"/>
<circle cx="306.1" cy="416.8" r="1.9" fill="#f2434a" stroke="#5a1010" stroke-width="0.7"/>
<circle cx="299.2" cy="443.4" r="1.9" fill="#f2434a" stroke="#5a1010" stroke-width="0.7"/>
<circle cx="313" cy="450.9" r="1.9" fill="#f2434a" stroke="#5a1010" stroke-width="0.7"/>
<circle cx="349.3" cy="379.1" r="1.9" fill="#1ad61a" stroke="#083a08" stroke-width="0.7"/>
<circle cx="349.3" cy="427.5" r="1.9" fill="#1ad61a" stroke="#083a08" stroke-width="0.7"/>
<circle cx="349.3" cy="446.2" r="1.9" fill="#1ad61a" stroke="#083a08" stroke-width="0.7"/>
<circle cx="338.4" cy="449.3" r="1.9" fill="#1ad61a" stroke="#083a08" stroke-width="0.7"/>
<circle cx="354.9" cy="450.7" r="1.9" fill="#1ad61a" stroke="#083a08" stroke-width="0.7"/>
<circle cx="343.8" cy="455" r="1.9" fill="#1ad61a" stroke="#083a08" stroke-width="0.7"/>
<circle cx="360.3" cy="454.5" r="1.9" fill="#1ad61a" stroke="#083a08" stroke-width="0.7"/>
<circle cx="340.9" cy="462.2" r="1.9" fill="#1ad61a" stroke="#083a08" stroke-width="0.7"/>
<circle cx="346.5" cy="461.6" r="1.9" fill="#1ad61a" stroke="#083a08" stroke-width="0.7"/>
<circle cx="351.9" cy="459.5" r="1.9" fill="#1ad61a" stroke="#083a08" stroke-width="0.7"/>
<circle cx="357.6" cy="460.4" r="1.9" fill="#1ad61a" stroke="#083a08" stroke-width="0.7"/>
<circle cx="392.3" cy="373.3" r="1.9" fill="#1ea4fa" stroke="#07243c" stroke-width="0.7"/>
<circle cx="392.3" cy="399.9" r="1.9" fill="#1ea4fa" stroke="#07243c" stroke-width="0.7"/>
<circle cx="392.3" cy="405.6" r="1.9" fill="#1ea4fa" stroke="#07243c" stroke-width="0.7"/>
<circle cx="401.6" cy="406.8" r="1.9" fill="#1ea4fa" stroke="#07243c" stroke-width="0.7"/>
<circle cx="383.2" cy="409.5" r="1.9" fill="#1ea4fa" stroke="#07243c" stroke-width="0.7"/>
<circle cx="397" cy="419.1" r="1.9" fill="#1ea4fa" stroke="#07243c" stroke-width="0.7"/>
<circle cx="387.7" cy="426.4" r="1.9" fill="#1ea4fa" stroke="#07243c" stroke-width="0.7"/>
<circle cx="392.3" cy="436.4" r="1.9" fill="#1ea4fa" stroke="#07243c" stroke-width="0.7"/>
<circle cx="383.2" cy="445.4" r="1.9" fill="#1ea4fa" stroke="#07243c" stroke-width="0.7"/>
<circle cx="392.3" cy="450.8" r="1.9" fill="#1ea4fa" stroke="#07243c" stroke-width="0.7"/>
<circle cx="401.6" cy="450" r="1.9" fill="#1ea4fa" stroke="#07243c" stroke-width="0.7"/>
<circle cx="442.3" cy="401.9" r="1.9" fill="#d4d4d4" stroke="#4a4a4a" stroke-width="0.7"/>
<circle cx="428.5" cy="406.3" r="1.9" fill="#d4d4d4" stroke="#4a4a4a" stroke-width="0.7"/>
<circle cx="435.4" cy="414.2" r="1.9" fill="#d4d4d4" stroke="#4a4a4a" stroke-width="0.7"/>
<circle cx="425" cy="419.1" r="1.9" fill="#d4d4d4" stroke="#4a4a4a" stroke-width="0.7"/>
<circle cx="438.8" cy="420.1" r="1.9" fill="#d4d4d4" stroke="#4a4a4a" stroke-width="0.7"/>
<circle cx="446" cy="419.5" r="1.9" fill="#d4d4d4" stroke="#4a4a4a" stroke-width="0.7"/>
<circle cx="432.1" cy="427.9" r="1.9" fill="#d4d4d4" stroke="#4a4a4a" stroke-width="0.7"/>
<circle cx="435.4" cy="438.3" r="1.9" fill="#d4d4d4" stroke="#4a4a4a" stroke-width="0.7"/>
<circle cx="432.1" cy="447.3" r="1.9" fill="#d4d4d4" stroke="#4a4a4a" stroke-width="0.7"/>
<circle cx="438.8" cy="453.7" r="1.9" fill="#d4d4d4" stroke="#4a4a4a" stroke-width="0.7"/>
<circle cx="435.4" cy="460.9" r="1.9" fill="#d4d4d4" stroke="#4a4a4a" stroke-width="0.7"/></g>
<g class="ch"><text x="0.4" y="495.8" font-size="18" font-weight="bold">d</text>
<text x="135.4" y="503.4" font-size="10" text-anchor="middle" font-style="italic">OK6 > <tspan font-weight="bold">GtACR1</tspan></text>
<line x1="47.7" y1="576.2" x2="220.1" y2="576.2" stroke="#222" stroke-width="1.35" stroke-dasharray="3.6 3.3"/>
<line x1="47.7" y1="679.70" x2="51.300000000000004" y2="679.70" stroke="#111" stroke-width="1"/>
<text x="43.800000000000004" y="683.30" font-size="10" text-anchor="end">-0.2</text>
<line x1="47.7" y1="671.09" x2="49.900000000000006" y2="671.09" stroke="#111" stroke-width="1"/>
<line x1="47.7" y1="662.47" x2="51.300000000000004" y2="662.47" stroke="#111" stroke-width="1"/>
<text x="43.800000000000004" y="666.07" font-size="10" text-anchor="end">0.0</text>
<line x1="47.7" y1="653.86" x2="49.900000000000006" y2="653.86" stroke="#111" stroke-width="1"/>
<line x1="47.7" y1="645.24" x2="51.300000000000004" y2="645.24" stroke="#111" stroke-width="1"/>
<text x="43.800000000000004" y="648.84" font-size="10" text-anchor="end">0.2</text>
<line x1="47.7" y1="636.62" x2="49.900000000000006" y2="636.62" stroke="#111" stroke-width="1"/>
<line x1="47.7" y1="628.01" x2="51.300000000000004" y2="628.01" stroke="#111" stroke-width="1"/>
<text x="43.800000000000004" y="631.61" font-size="10" text-anchor="end">0.4</text>
<line x1="47.7" y1="619.39" x2="49.900000000000006" y2="619.39" stroke="#111" stroke-width="1"/>
<line x1="47.7" y1="610.78" x2="51.300000000000004" y2="610.78" stroke="#111" stroke-width="1"/>
<text x="43.800000000000004" y="614.38" font-size="10" text-anchor="end">0.6</text>
<line x1="47.7" y1="602.16" x2="49.900000000000006" y2="602.16" stroke="#111" stroke-width="1"/>
<line x1="47.7" y1="593.55" x2="51.300000000000004" y2="593.55" stroke="#111" stroke-width="1"/>
<text x="43.800000000000004" y="597.15" font-size="10" text-anchor="end">0.8</text>
<line x1="47.7" y1="584.93" x2="49.900000000000006" y2="584.93" stroke="#111" stroke-width="1"/>
<line x1="47.7" y1="576.32" x2="51.300000000000004" y2="576.32" stroke="#111" stroke-width="1"/>
<text x="43.800000000000004" y="579.92" font-size="10" text-anchor="end">1.0</text>
<line x1="47.7" y1="567.71" x2="49.900000000000006" y2="567.71" stroke="#111" stroke-width="1"/>
<line x1="47.7" y1="559.09" x2="51.300000000000004" y2="559.09" stroke="#111" stroke-width="1"/>
<text x="43.800000000000004" y="562.69" font-size="10" text-anchor="end">1.2</text>
<line x1="47.7" y1="550.48" x2="49.900000000000006" y2="550.48" stroke="#111" stroke-width="1"/>
<line x1="47.7" y1="541.86" x2="51.300000000000004" y2="541.86" stroke="#111" stroke-width="1"/>
<text x="43.800000000000004" y="545.46" font-size="10" text-anchor="end">1.4</text>
<line x1="47.7" y1="533.25" x2="49.900000000000006" y2="533.25" stroke="#111" stroke-width="1"/>
<line x1="47.7" y1="524.63" x2="51.300000000000004" y2="524.63" stroke="#111" stroke-width="1"/>
<text x="43.800000000000004" y="528.23" font-size="10" text-anchor="end">1.6</text>
<line x1="47.7" y1="516.01" x2="49.900000000000006" y2="516.01" stroke="#111" stroke-width="1"/>
<line x1="47.7" y1="507.40" x2="51.300000000000004" y2="507.40" stroke="#111" stroke-width="1"/>
<text x="43.800000000000004" y="511.00" font-size="10" text-anchor="end">1.8</text>
<line x1="69.25" y1="679.7" x2="69.25" y2="676.5" stroke="#111" stroke-width="1"/>
<line x1="112.35" y1="679.7" x2="112.35" y2="676.5" stroke="#111" stroke-width="1"/>
<line x1="155.45" y1="679.7" x2="155.45" y2="676.5" stroke="#111" stroke-width="1"/>
<line x1="198.55" y1="679.7" x2="198.55" y2="676.5" stroke="#111" stroke-width="1"/>
<rect x="47.7" y="507.4" width="172.40" height="172.30" fill="none" stroke="#111" stroke-width="1.1"/>
<text x="69.25" y="691.3" font-size="10" text-anchor="middle">Red</text>
<text x="112.35" y="691.3" font-size="10" text-anchor="middle">Green</text>
<text x="155.45" y="691.3" font-size="10" text-anchor="middle">Blue</text>
<text x="198.55" y="691.3" font-size="10" text-anchor="middle">White</text>
<text x="21.5" y="593.55" font-size="10" text-anchor="middle" transform="rotate(-90 21.5 593.55)" dx="0">Normalised speed</text>
<text x="212.7" y="517.2" font-size="10" text-anchor="end"><tspan font-style="italic">N</tspan> = 11</text>
<text x="70.0" y="527.0" font-size="10" text-anchor="middle">ns</text>
<text x="112.9" y="529.5" font-size="10" text-anchor="middle" style="stroke:#111;stroke-width:0.3px" letter-spacing="0.5">**</text>
<text x="158.9" y="529.5" font-size="10" text-anchor="middle" style="stroke:#111;stroke-width:0.3px" letter-spacing="0.5">****</text>
<text x="201.9" y="529.5" font-size="10" text-anchor="middle" style="stroke:#111;stroke-width:0.3px" letter-spacing="0.5">***</text>
<line x1="69.25" y1="586.3" x2="69.25" y2="606.6" stroke="#ff3340" stroke-width="1.7"/>
<line x1="59.95" y1="586.3" x2="78.55" y2="586.3" stroke="#ff3340" stroke-width="1.7"/>
<line x1="59.95" y1="606.6" x2="78.55" y2="606.6" stroke="#ff3340" stroke-width="1.7"/>
<path d="M69.25 591.80L74.00 596.30L69.25 600.80L64.50 596.30Z" fill="#ff3340"/>
<line x1="112.35" y1="609.5" x2="112.35" y2="631.2" stroke="#0cdc0c" stroke-width="1.7"/>
<line x1="103.05" y1="609.5" x2="121.65" y2="609.5" stroke="#0cdc0c" stroke-width="1.7"/>
<line x1="103.05" y1="631.2" x2="121.65" y2="631.2" stroke="#0cdc0c" stroke-width="1.7"/>
<path d="M112.35 615.90L117.10 620.40L112.35 624.90L107.60 620.40Z" fill="#0cdc0c"/>
<line x1="155.45" y1="623.4" x2="155.45" y2="635.7" stroke="#14a2ff" stroke-width="1.7"/>
<line x1="146.15" y1="623.4" x2="164.75" y2="623.4" stroke="#14a2ff" stroke-width="1.7"/>
<line x1="146.15" y1="635.7" x2="164.75" y2="635.7" stroke="#14a2ff" stroke-width="1.7"/>
<path d="M155.45 625.20L160.20 629.70L155.45 634.20L150.70 629.70Z" fill="#14a2ff"/>
<line x1="198.55" y1="615.0" x2="198.55" y2="626.5" stroke="#c6c6c6" stroke-width="1.7"/>
<line x1="189.25" y1="615.0" x2="207.85" y2="615.0" stroke="#c6c6c6" stroke-width="1.7"/>
<line x1="189.25" y1="626.5" x2="207.85" y2="626.5" stroke="#c6c6c6" stroke-width="1.7"/>
<path d="M198.55 616.40L203.30 620.90L198.55 625.40L193.80 620.90Z" fill="#c6c6c6"/>
<circle cx="69.3" cy="534.5" r="1.9" fill="#f2434a" stroke="#5a1010" stroke-width="0.7" fill-opacity="0.5" stroke-opacity="0.5"/>
<circle cx="69.3" cy="555.2" r="1.9" fill="#f2434a" stroke="#5a1010" stroke-width="0.7" fill-opacity="0.5" stroke-opacity="0.5"/>
<circle cx="69.3" cy="571.8" r="1.9" fill="#f2434a" stroke="#5a1010" stroke-width="0.7" fill-opacity="0.5" stroke-opacity="0.5"/>
<circle cx="59" cy="594.8" r="1.9" fill="#f2434a" stroke="#5a1010" stroke-width="0.7" fill-opacity="0.5" stroke-opacity="0.5"/>
<circle cx="72.9" cy="594.8" r="1.9" fill="#f2434a" stroke="#5a1010" stroke-width="0.7" fill-opacity="0.5" stroke-opacity="0.5"/>
<circle cx="79.8" cy="594.8" r="1.9" fill="#f2434a" stroke="#5a1010" stroke-width="0.7" fill-opacity="0.5" stroke-opacity="0.5"/>
<circle cx="66" cy="602" r="1.9" fill="#f2434a" stroke="#5a1010" stroke-width="0.7" fill-opacity="0.5" stroke-opacity="0.5"/>
<circle cx="72.9" cy="611.1" r="1.9" fill="#f2434a" stroke="#5a1010" stroke-width="0.7" fill-opacity="0.5" stroke-opacity="0.5"/>
<circle cx="66" cy="615.8" r="1.9" fill="#f2434a" stroke="#5a1010" stroke-width="0.7" fill-opacity="0.5" stroke-opacity="0.5"/>
<circle cx="69.3" cy="635.2" r="1.9" fill="#f2434a" stroke="#5a1010" stroke-width="0.7" fill-opacity="0.5" stroke-opacity="0.5"/>
<circle cx="69.3" cy="649.9" r="1.9" fill="#f2434a" stroke="#5a1010" stroke-width="0.7" fill-opacity="0.5" stroke-opacity="0.5"/>
<circle cx="108.9" cy="548.7" r="1.9" fill="#1ad61a" stroke="#083a08" stroke-width="0.7" fill-opacity="0.5" stroke-opacity="0.5"/>
<circle cx="115.8" cy="556.8" r="1.9" fill="#1ad61a" stroke="#083a08" stroke-width="0.7" fill-opacity="0.5" stroke-opacity="0.5"/>
<circle cx="105.5" cy="614.5" r="1.9" fill="#1ad61a" stroke="#083a08" stroke-width="0.7" fill-opacity="0.5" stroke-opacity="0.5"/>
<circle cx="119.2" cy="616.7" r="1.9" fill="#1ad61a" stroke="#083a08" stroke-width="0.7" fill-opacity="0.5" stroke-opacity="0.5"/>
<circle cx="112.3" cy="621.4" r="1.9" fill="#1ad61a" stroke="#083a08" stroke-width="0.7" fill-opacity="0.5" stroke-opacity="0.5"/>
<circle cx="115.8" cy="630" r="1.9" fill="#1ad61a" stroke="#083a08" stroke-width="0.7" fill-opacity="0.5" stroke-opacity="0.5"/>
<circle cx="108.9" cy="644.3" r="1.9" fill="#1ad61a" stroke="#083a08" stroke-width="0.7" fill-opacity="0.5" stroke-opacity="0.5"/>
<circle cx="108.9" cy="645.5" r="1.9" fill="#1ad61a" stroke="#083a08" stroke-width="0.7" fill-opacity="0.5" stroke-opacity="0.5"/>
<circle cx="115.8" cy="646.3" r="1.9" fill="#1ad61a" stroke="#083a08" stroke-width="0.7" fill-opacity="0.5" stroke-opacity="0.5"/>
<circle cx="122.7" cy="647.2" r="1.9" fill="#1ad61a" stroke="#083a08" stroke-width="0.7" fill-opacity="0.5" stroke-opacity="0.5"/>
<circle cx="102" cy="652.2" r="1.9" fill="#1ad61a" stroke="#083a08" stroke-width="0.7" fill-opacity="0.5" stroke-opacity="0.5"/>
<circle cx="155.3" cy="591.4" r="1.9" fill="#1ea4fa" stroke="#07243c" stroke-width="0.7" fill-opacity="0.5" stroke-opacity="0.5"/>
<circle cx="155.3" cy="597.4" r="1.9" fill="#1ea4fa" stroke="#07243c" stroke-width="0.7" fill-opacity="0.5" stroke-opacity="0.5"/>
<circle cx="164.6" cy="617.4" r="1.9" fill="#1ea4fa" stroke="#07243c" stroke-width="0.7" fill-opacity="0.5" stroke-opacity="0.5"/>
<circle cx="146.2" cy="625.3" r="1.9" fill="#1ea4fa" stroke="#07243c" stroke-width="0.7" fill-opacity="0.5" stroke-opacity="0.5"/>
<circle cx="155.3" cy="626.6" r="1.9" fill="#1ea4fa" stroke="#07243c" stroke-width="0.7" fill-opacity="0.5" stroke-opacity="0.5"/>
<circle cx="146.2" cy="639.1" r="1.9" fill="#1ea4fa" stroke="#07243c" stroke-width="0.7" fill-opacity="0.5" stroke-opacity="0.5"/>
<circle cx="155.3" cy="639.3" r="1.9" fill="#1ea4fa" stroke="#07243c" stroke-width="0.7" fill-opacity="0.5" stroke-opacity="0.5"/>
<circle cx="164.6" cy="643.5" r="1.9" fill="#1ea4fa" stroke="#07243c" stroke-width="0.7" fill-opacity="0.5" stroke-opacity="0.5"/>
<circle cx="146.2" cy="647.5" r="1.9" fill="#1ea4fa" stroke="#07243c" stroke-width="0.7" fill-opacity="0.5" stroke-opacity="0.5"/>
<circle cx="155.3" cy="647.9" r="1.9" fill="#1ea4fa" stroke="#07243c" stroke-width="0.7" fill-opacity="0.5" stroke-opacity="0.5"/>
<circle cx="164.6" cy="649.8" r="1.9" fill="#1ea4fa" stroke="#07243c" stroke-width="0.7" fill-opacity="0.5" stroke-opacity="0.5"/>
<circle cx="198.4" cy="585.5" r="1.9" fill="#d4d4d4" stroke="#4a4a4a" stroke-width="0.7" fill-opacity="0.5" stroke-opacity="0.5"/>
<circle cx="193" cy="599.9" r="1.9" fill="#d4d4d4" stroke="#4a4a4a" stroke-width="0.7" fill-opacity="0.5" stroke-opacity="0.5"/>
<circle cx="198.4" cy="606.8" r="1.9" fill="#d4d4d4" stroke="#4a4a4a" stroke-width="0.7" fill-opacity="0.5" stroke-opacity="0.5"/>
<circle cx="203.9" cy="605.8" r="1.9" fill="#d4d4d4" stroke="#4a4a4a" stroke-width="0.7" fill-opacity="0.5" stroke-opacity="0.5"/>
<circle cx="201.2" cy="614" r="1.9" fill="#d4d4d4" stroke="#4a4a4a" stroke-width="0.7" fill-opacity="0.5" stroke-opacity="0.5"/>
<circle cx="195.5" cy="626.5" r="1.9" fill="#d4d4d4" stroke="#4a4a4a" stroke-width="0.7" fill-opacity="0.5" stroke-opacity="0.5"/>
<circle cx="198.4" cy="631.8" r="1.9" fill="#d4d4d4" stroke="#4a4a4a" stroke-width="0.7" fill-opacity="0.5" stroke-opacity="0.5"/>
<circle cx="187.4" cy="636" r="1.9" fill="#d4d4d4" stroke="#4a4a4a" stroke-width="0.7" fill-opacity="0.5" stroke-opacity="0.5"/>
<circle cx="193" cy="638.7" r="1.9" fill="#d4d4d4" stroke="#4a4a4a" stroke-width="0.7" fill-opacity="0.5" stroke-opacity="0.5"/>
<circle cx="203.9" cy="638.8" r="1.9" fill="#d4d4d4" stroke="#4a4a4a" stroke-width="0.7" fill-opacity="0.5" stroke-opacity="0.5"/>
<circle cx="209.3" cy="644.1" r="1.9" fill="#d4d4d4" stroke="#4a4a4a" stroke-width="0.7" fill-opacity="0.5" stroke-opacity="0.5"/></g>
<g class="ch"><text x="242.4" y="497.0" font-size="18" font-weight="bold">e</text>
<text x="372.4" y="503.2" font-size="10" text-anchor="middle" font-style="italic">OK6 > <tspan font-weight="bold">GtACR2</tspan></text>
<line x1="284.6" y1="593.2" x2="457.4" y2="593.2" stroke="#222" stroke-width="1.35" stroke-dasharray="3.6 3.3"/>
<line x1="284.6" y1="679.40" x2="288.20000000000005" y2="679.40" stroke="#111" stroke-width="1"/>
<text x="280.70000000000005" y="683.00" font-size="10" text-anchor="end">0.2</text>
<line x1="284.6" y1="668.65" x2="286.8" y2="668.65" stroke="#111" stroke-width="1"/>
<line x1="284.6" y1="657.90" x2="288.20000000000005" y2="657.90" stroke="#111" stroke-width="1"/>
<text x="280.70000000000005" y="661.50" font-size="10" text-anchor="end">0.4</text>
<line x1="284.6" y1="647.15" x2="286.8" y2="647.15" stroke="#111" stroke-width="1"/>
<line x1="284.6" y1="636.40" x2="288.20000000000005" y2="636.40" stroke="#111" stroke-width="1"/>
<text x="280.70000000000005" y="640.00" font-size="10" text-anchor="end">0.6</text>
<line x1="284.6" y1="625.65" x2="286.8" y2="625.65" stroke="#111" stroke-width="1"/>
<line x1="284.6" y1="614.90" x2="288.20000000000005" y2="614.90" stroke="#111" stroke-width="1"/>
<text x="280.70000000000005" y="618.50" font-size="10" text-anchor="end">0.8</text>
<line x1="284.6" y1="604.15" x2="286.8" y2="604.15" stroke="#111" stroke-width="1"/>
<line x1="284.6" y1="593.40" x2="288.20000000000005" y2="593.40" stroke="#111" stroke-width="1"/>
<text x="280.70000000000005" y="597.00" font-size="10" text-anchor="end">1.0</text>
<line x1="284.6" y1="582.65" x2="286.8" y2="582.65" stroke="#111" stroke-width="1"/>
<line x1="284.6" y1="571.90" x2="288.20000000000005" y2="571.90" stroke="#111" stroke-width="1"/>
<text x="280.70000000000005" y="575.50" font-size="10" text-anchor="end">1.2</text>
<line x1="284.6" y1="561.15" x2="286.8" y2="561.15" stroke="#111" stroke-width="1"/>
<line x1="284.6" y1="550.40" x2="288.20000000000005" y2="550.40" stroke="#111" stroke-width="1"/>
<text x="280.70000000000005" y="554.00" font-size="10" text-anchor="end">1.4</text>
<line x1="284.6" y1="539.65" x2="286.8" y2="539.65" stroke="#111" stroke-width="1"/>
<line x1="284.6" y1="528.90" x2="288.20000000000005" y2="528.90" stroke="#111" stroke-width="1"/>
<text x="280.70000000000005" y="532.50" font-size="10" text-anchor="end">1.6</text>
<line x1="284.6" y1="518.15" x2="286.8" y2="518.15" stroke="#111" stroke-width="1"/>
<line x1="284.6" y1="507.40" x2="288.20000000000005" y2="507.40" stroke="#111" stroke-width="1"/>
<text x="280.70000000000005" y="511.00" font-size="10" text-anchor="end">1.8</text>
<line x1="306.20" y1="679.4" x2="306.20" y2="676.1999999999999" stroke="#111" stroke-width="1"/>
<line x1="349.40" y1="679.4" x2="349.40" y2="676.1999999999999" stroke="#111" stroke-width="1"/>
<line x1="392.60" y1="679.4" x2="392.60" y2="676.1999999999999" stroke="#111" stroke-width="1"/>
<line x1="435.80" y1="679.4" x2="435.80" y2="676.1999999999999" stroke="#111" stroke-width="1"/>
<rect x="284.6" y="507.4" width="172.80" height="172.00" fill="none" stroke="#111" stroke-width="1.1"/>
<text x="306.20" y="691.3" font-size="10" text-anchor="middle">Red</text>
<text x="349.40" y="691.3" font-size="10" text-anchor="middle">Green</text>
<text x="392.60" y="691.3" font-size="10" text-anchor="middle">Blue</text>
<text x="435.80" y="691.3" font-size="10" text-anchor="middle">White</text>
<text x="258.5" y="593.40" font-size="10" text-anchor="middle" transform="rotate(-90 258.5 593.40)" dx="0">Normalised speed</text>
<text x="451.0" y="515.5" font-size="10" text-anchor="end"><tspan font-style="italic">N</tspan> = 10</text>
<text x="306.1" y="525.7" font-size="10" text-anchor="middle">ns</text>
<text x="349.7" y="525.7" font-size="10" text-anchor="middle">ns</text>
<text x="392.3" y="525.7" font-size="10" text-anchor="middle">ns</text>
<text x="436.3" y="527.9" font-size="10" text-anchor="middle" style="stroke:#111;stroke-width:0.3px" letter-spacing="0.5">*</text>
<line x1="306.20" y1="581.2" x2="306.20" y2="603.2" stroke="#ff3340" stroke-width="1.7"/>
<line x1="296.90" y1="581.2" x2="315.50" y2="581.2" stroke="#ff3340" stroke-width="1.7"/>
<line x1="296.90" y1="603.2" x2="315.50" y2="603.2" stroke="#ff3340" stroke-width="1.7"/>
<path d="M306.20 587.70L310.95 592.20L306.20 596.70L301.45 592.20Z" fill="#ff3340"/>
<line x1="349.40" y1="599.1" x2="349.40" y2="623.7" stroke="#0cdc0c" stroke-width="1.7"/>
<line x1="340.10" y1="599.1" x2="358.70" y2="599.1" stroke="#0cdc0c" stroke-width="1.7"/>
<line x1="340.10" y1="623.7" x2="358.70" y2="623.7" stroke="#0cdc0c" stroke-width="1.7"/>
<path d="M349.40 606.60L354.15 611.10L349.40 615.60L344.65 611.10Z" fill="#0cdc0c"/>
<line x1="392.60" y1="599.5" x2="392.60" y2="618.9" stroke="#14a2ff" stroke-width="1.7"/>
<line x1="383.30" y1="599.5" x2="401.90" y2="599.5" stroke="#14a2ff" stroke-width="1.7"/>
<line x1="383.30" y1="618.9" x2="401.90" y2="618.9" stroke="#14a2ff" stroke-width="1.7"/>
<path d="M392.60 604.40L397.35 608.90L392.60 613.40L387.85 608.90Z" fill="#14a2ff"/>
<line x1="435.80" y1="609.5" x2="435.80" y2="629.2" stroke="#c6c6c6" stroke-width="1.7"/>
<line x1="426.50" y1="609.5" x2="445.10" y2="609.5" stroke="#c6c6c6" stroke-width="1.7"/>
<line x1="426.50" y1="629.2" x2="445.10" y2="629.2" stroke="#c6c6c6" stroke-width="1.7"/>
<path d="M435.80 615.00L440.55 619.50L435.80 624.00L431.05 619.50Z" fill="#c6c6c6"/>
<circle cx="306.1" cy="533.5" r="1.9" fill="#f2434a" stroke="#5a1010" stroke-width="0.7"/>
<circle cx="302.6" cy="558.1" r="1.9" fill="#f2434a" stroke="#5a1010" stroke-width="0.7"/>
<circle cx="309.7" cy="563.7" r="1.9" fill="#f2434a" stroke="#5a1010" stroke-width="0.7"/>
<circle cx="306.1" cy="580.6" r="1.9" fill="#f2434a" stroke="#5a1010" stroke-width="0.7"/>
<circle cx="296" cy="597.2" r="1.9" fill="#f2434a" stroke="#5a1010" stroke-width="0.7"/>
<circle cx="309.7" cy="597.2" r="1.9" fill="#f2434a" stroke="#5a1010" stroke-width="0.7"/>
<circle cx="316.6" cy="604.7" r="1.9" fill="#f2434a" stroke="#5a1010" stroke-width="0.7"/>
<circle cx="302.6" cy="612.9" r="1.9" fill="#f2434a" stroke="#5a1010" stroke-width="0.7"/>
<circle cx="306.1" cy="616.2" r="1.9" fill="#f2434a" stroke="#5a1010" stroke-width="0.7"/>
<circle cx="306.1" cy="656.6" r="1.9" fill="#f2434a" stroke="#5a1010" stroke-width="0.7"/>
<circle cx="345.9" cy="542.9" r="1.9" fill="#1ad61a" stroke="#083a08" stroke-width="0.7"/>
<circle cx="352.8" cy="541" r="1.9" fill="#1ad61a" stroke="#083a08" stroke-width="0.7"/>
<circle cx="345.9" cy="610.1" r="1.9" fill="#1ad61a" stroke="#083a08" stroke-width="0.7"/>
<circle cx="352.8" cy="614.8" r="1.9" fill="#1ad61a" stroke="#083a08" stroke-width="0.7"/>
<circle cx="339" cy="619.9" r="1.9" fill="#1ad61a" stroke="#083a08" stroke-width="0.7"/>
<circle cx="345.9" cy="621.8" r="1.9" fill="#1ad61a" stroke="#083a08" stroke-width="0.7"/>
<circle cx="352.8" cy="629.6" r="1.9" fill="#1ad61a" stroke="#083a08" stroke-width="0.7"/>
<circle cx="359.7" cy="628.3" r="1.9" fill="#1ad61a" stroke="#083a08" stroke-width="0.7"/>
<circle cx="345.9" cy="650" r="1.9" fill="#1ad61a" stroke="#083a08" stroke-width="0.7"/>
<circle cx="352.8" cy="654.5" r="1.9" fill="#1ad61a" stroke="#083a08" stroke-width="0.7"/>
<circle cx="392.3" cy="549.2" r="1.9" fill="#1ea4fa" stroke="#07243c" stroke-width="0.7"/>
<circle cx="392.3" cy="585" r="1.9" fill="#1ea4fa" stroke="#07243c" stroke-width="0.7"/>
<circle cx="382" cy="595.1" r="1.9" fill="#1ea4fa" stroke="#07243c" stroke-width="0.7"/>
<circle cx="403" cy="597.6" r="1.9" fill="#1ea4fa" stroke="#07243c" stroke-width="0.7"/>
<circle cx="389" cy="609.3" r="1.9" fill="#1ea4fa" stroke="#07243c" stroke-width="0.7"/>
<circle cx="395.7" cy="612.4" r="1.9" fill="#1ea4fa" stroke="#07243c" stroke-width="0.7"/>
<circle cx="395.7" cy="615.2" r="1.9" fill="#1ea4fa" stroke="#07243c" stroke-width="0.7"/>
<circle cx="389" cy="621.4" r="1.9" fill="#1ea4fa" stroke="#07243c" stroke-width="0.7"/>
<circle cx="392.3" cy="644.9" r="1.9" fill="#1ea4fa" stroke="#07243c" stroke-width="0.7"/>
<circle cx="392.3" cy="661.4" r="1.9" fill="#1ea4fa" stroke="#07243c" stroke-width="0.7"/>
<circle cx="435.4" cy="561.2" r="1.9" fill="#d4d4d4" stroke="#4a4a4a" stroke-width="0.7"/>
<circle cx="435.4" cy="590.7" r="1.9" fill="#d4d4d4" stroke="#4a4a4a" stroke-width="0.7"/>
<circle cx="431" cy="599.1" r="1.9" fill="#d4d4d4" stroke="#4a4a4a" stroke-width="0.7"/>
<circle cx="440" cy="613.6" r="1.9" fill="#d4d4d4" stroke="#4a4a4a" stroke-width="0.7"/>
<circle cx="426.2" cy="619.8" r="1.9" fill="#d4d4d4" stroke="#4a4a4a" stroke-width="0.7"/>
<circle cx="435.4" cy="622.1" r="1.9" fill="#d4d4d4" stroke="#4a4a4a" stroke-width="0.7"/>
<circle cx="444.8" cy="624.8" r="1.9" fill="#d4d4d4" stroke="#4a4a4a" stroke-width="0.7"/>
<circle cx="431" cy="644.3" r="1.9" fill="#d4d4d4" stroke="#4a4a4a" stroke-width="0.7"/>
<circle cx="440" cy="651.6" r="1.9" fill="#d4d4d4" stroke="#4a4a4a" stroke-width="0.7"/>
<circle cx="435.4" cy="667.6" r="1.9" fill="#d4d4d4" stroke="#4a4a4a" stroke-width="0.7"/></g>
<g class="ch"><text x="477.4" y="391.0" font-size="18" font-weight="bold">f</text>
<text x="599.6" y="397.7" font-size="10" text-anchor="middle" font-style="italic">Control w<tspan font-size="7" dy="-4.6" dx="0.4">1118</tspan></text>
<line x1="511.7" y1="511.0" x2="684.3" y2="511.0" stroke="#484848" stroke-width="1.35" stroke-dasharray="3.6 3.3"/>
<line x1="511.7" y1="574.50" x2="515.3" y2="574.50" stroke="#111" stroke-width="1"/>
<text x="507.8" y="578.10" font-size="10" text-anchor="end">0.0</text>
<line x1="511.7" y1="561.75" x2="513.9" y2="561.75" stroke="#111" stroke-width="1"/>
<line x1="511.7" y1="549.00" x2="515.3" y2="549.00" stroke="#111" stroke-width="1"/>
<text x="507.8" y="552.60" font-size="10" text-anchor="end">0.4</text>
<line x1="511.7" y1="536.26" x2="513.9" y2="536.26" stroke="#111" stroke-width="1"/>
<line x1="511.7" y1="523.51" x2="515.3" y2="523.51" stroke="#111" stroke-width="1"/>
<text x="507.8" y="527.11" font-size="10" text-anchor="end">0.8</text>
<line x1="511.7" y1="510.76" x2="513.9" y2="510.76" stroke="#111" stroke-width="1"/>
<line x1="511.7" y1="498.01" x2="515.3" y2="498.01" stroke="#111" stroke-width="1"/>
<text x="507.8" y="501.61" font-size="10" text-anchor="end">1.2</text>
<line x1="511.7" y1="485.26" x2="513.9" y2="485.26" stroke="#111" stroke-width="1"/>
<line x1="511.7" y1="472.51" x2="515.3" y2="472.51" stroke="#111" stroke-width="1"/>
<text x="507.8" y="476.11" font-size="10" text-anchor="end">1.6</text>
<line x1="511.7" y1="459.77" x2="513.9" y2="459.77" stroke="#111" stroke-width="1"/>
<line x1="511.7" y1="447.02" x2="515.3" y2="447.02" stroke="#111" stroke-width="1"/>
<text x="507.8" y="450.62" font-size="10" text-anchor="end">2.0</text>
<line x1="511.7" y1="434.27" x2="513.9" y2="434.27" stroke="#111" stroke-width="1"/>
<line x1="511.7" y1="421.52" x2="515.3" y2="421.52" stroke="#111" stroke-width="1"/>
<text x="507.8" y="425.12" font-size="10" text-anchor="end">2.4</text>
<line x1="511.7" y1="408.77" x2="513.9" y2="408.77" stroke="#111" stroke-width="1"/>
<line x1="533.27" y1="574.5" x2="533.27" y2="571.3" stroke="#111" stroke-width="1"/>
<line x1="576.42" y1="574.5" x2="576.42" y2="571.3" stroke="#111" stroke-width="1"/>
<line x1="619.57" y1="574.5" x2="619.57" y2="571.3" stroke="#111" stroke-width="1"/>
<line x1="662.72" y1="574.5" x2="662.72" y2="571.3" stroke="#111" stroke-width="1"/>
<rect x="511.7" y="402.4" width="172.60" height="172.10" fill="none" stroke="#111" stroke-width="1.1"/>
<text x="533.27" y="586.2" font-size="10" text-anchor="middle">Red</text>
<text x="576.42" y="586.2" font-size="10" text-anchor="middle">Green</text>
<text x="619.57" y="586.2" font-size="10" text-anchor="middle">Blue</text>
<text x="662.72" y="586.2" font-size="10" text-anchor="middle">White</text>
<text x="485.0" y="488.45" font-size="10" text-anchor="middle" transform="rotate(-90 485.0 488.45)" dx="0">Normalised speed</text>
<text x="678.4" y="411.5" font-size="10" text-anchor="end"><tspan font-style="italic">N</tspan> = 10</text>
<text x="533.3" y="420.7" font-size="10" text-anchor="middle">ns</text>
<text x="576.7" y="420.7" font-size="10" text-anchor="middle">ns</text>
<text x="620.6" y="420.7" font-size="10" text-anchor="middle">ns</text>
<text x="665.2" y="420.7" font-size="10" text-anchor="middle">ns</text>
<line x1="533.27" y1="500.4" x2="533.27" y2="520.5" stroke="#ff3340" stroke-width="1.7"/>
<line x1="523.98" y1="500.4" x2="542.57" y2="500.4" stroke="#ff3340" stroke-width="1.7"/>
<line x1="523.98" y1="520.5" x2="542.57" y2="520.5" stroke="#ff3340" stroke-width="1.7"/>
<path d="M533.27 505.90L538.02 510.40L533.27 514.90L528.52 510.40Z" fill="#ff3340"/>
<line x1="576.42" y1="495.7" x2="576.42" y2="521.2" stroke="#0cdc0c" stroke-width="1.7"/>
<line x1="567.12" y1="495.7" x2="585.72" y2="495.7" stroke="#0cdc0c" stroke-width="1.7"/>
<line x1="567.12" y1="521.2" x2="585.72" y2="521.2" stroke="#0cdc0c" stroke-width="1.7"/>
<path d="M576.42 504.40L581.17 508.90L576.42 513.40L571.67 508.90Z" fill="#0cdc0c"/>
<line x1="619.57" y1="504.1" x2="619.57" y2="518.7" stroke="#14a2ff" stroke-width="1.7"/>
<line x1="610.27" y1="504.1" x2="628.87" y2="504.1" stroke="#14a2ff" stroke-width="1.7"/>
<line x1="610.27" y1="518.7" x2="628.87" y2="518.7" stroke="#14a2ff" stroke-width="1.7"/>
<path d="M619.57 506.90L624.32 511.40L619.57 515.90L614.82 511.40Z" fill="#14a2ff"/>
<line x1="662.72" y1="475.3" x2="662.72" y2="500.4" stroke="#c6c6c6" stroke-width="1.7"/>
<line x1="653.42" y1="475.3" x2="672.02" y2="475.3" stroke="#c6c6c6" stroke-width="1.7"/>
<line x1="653.42" y1="500.4" x2="672.02" y2="500.4" stroke="#c6c6c6" stroke-width="1.7"/>
<path d="M662.72 483.50L667.47 488.00L662.72 492.50L657.97 488.00Z" fill="#c6c6c6"/>
<circle cx="526.4" cy="472.6" r="1.9" fill="#f2434a" stroke="#5a1010" stroke-width="0.7"/>
<circle cx="533.3" cy="471.3" r="1.9" fill="#f2434a" stroke="#5a1010" stroke-width="0.7"/>
<circle cx="540.2" cy="478.8" r="1.9" fill="#f2434a" stroke="#5a1010" stroke-width="0.7"/>
<circle cx="533.3" cy="484.5" r="1.9" fill="#f2434a" stroke="#5a1010" stroke-width="0.7"/>
<circle cx="543.8" cy="514.3" r="1.9" fill="#f2434a" stroke="#5a1010" stroke-width="0.7"/>
<circle cx="523" cy="520.5" r="1.9" fill="#f2434a" stroke="#5a1010" stroke-width="0.7"/>
<circle cx="536.9" cy="522.7" r="1.9" fill="#f2434a" stroke="#5a1010" stroke-width="0.7"/>
<circle cx="530" cy="542.2" r="1.9" fill="#f2434a" stroke="#5a1010" stroke-width="0.7"/>
<circle cx="530" cy="543.8" r="1.9" fill="#f2434a" stroke="#5a1010" stroke-width="0.7"/>
<circle cx="536.9" cy="553.1" r="1.9" fill="#f2434a" stroke="#5a1010" stroke-width="0.7"/>
<circle cx="576.3" cy="442.1" r="1.9" fill="#1ad61a" stroke="#083a08" stroke-width="0.7"/>
<circle cx="580.8" cy="468" r="1.9" fill="#1ad61a" stroke="#083a08" stroke-width="0.7"/>
<circle cx="571.9" cy="472.6" r="1.9" fill="#1ad61a" stroke="#083a08" stroke-width="0.7"/>
<circle cx="585.7" cy="499.3" r="1.9" fill="#1ad61a" stroke="#083a08" stroke-width="0.7"/>
<circle cx="576.4" cy="502.6" r="1.9" fill="#1ad61a" stroke="#083a08" stroke-width="0.7"/>
<circle cx="567.2" cy="509.8" r="1.9" fill="#1ad61a" stroke="#083a08" stroke-width="0.7"/>
<circle cx="580.8" cy="522.5" r="1.9" fill="#1ad61a" stroke="#083a08" stroke-width="0.7"/>
<circle cx="571.9" cy="540.9" r="1.9" fill="#1ad61a" stroke="#083a08" stroke-width="0.7"/>
<circle cx="580.8" cy="560.5" r="1.9" fill="#1ad61a" stroke="#083a08" stroke-width="0.7"/>
<circle cx="571.9" cy="566.8" r="1.9" fill="#1ad61a" stroke="#083a08" stroke-width="0.7"/>
<circle cx="619.6" cy="463.7" r="1.9" fill="#1ea4fa" stroke="#07243c" stroke-width="0.7"/>
<circle cx="617.5" cy="485.4" r="1.9" fill="#1ea4fa" stroke="#07243c" stroke-width="0.7"/>
<circle cx="621.6" cy="502" r="1.9" fill="#1ea4fa" stroke="#07243c" stroke-width="0.7"/>
<circle cx="616" cy="512.7" r="1.9" fill="#1ea4fa" stroke="#07243c" stroke-width="0.7"/>
<circle cx="627.5" cy="512.7" r="1.9" fill="#1ea4fa" stroke="#07243c" stroke-width="0.7"/>
<circle cx="607.8" cy="518" r="1.9" fill="#1ea4fa" stroke="#07243c" stroke-width="0.7"/>
<circle cx="631.5" cy="519" r="1.9" fill="#1ea4fa" stroke="#07243c" stroke-width="0.7"/>
<circle cx="623.5" cy="528" r="1.9" fill="#1ea4fa" stroke="#07243c" stroke-width="0.7"/>
<circle cx="619.6" cy="533" r="1.9" fill="#1ea4fa" stroke="#07243c" stroke-width="0.7"/>
<circle cx="611.8" cy="541.8" r="1.9" fill="#1ea4fa" stroke="#07243c" stroke-width="0.7"/>
<circle cx="658" cy="426.7" r="1.9" fill="#d4d4d4" stroke="#4a4a4a" stroke-width="0.7"/>
<circle cx="667.3" cy="433.9" r="1.9" fill="#d4d4d4" stroke="#4a4a4a" stroke-width="0.7"/>
<circle cx="667.3" cy="451.9" r="1.9" fill="#d4d4d4" stroke="#4a4a4a" stroke-width="0.7"/>
<circle cx="658" cy="475" r="1.9" fill="#d4d4d4" stroke="#4a4a4a" stroke-width="0.7"/>
<circle cx="653.2" cy="489.5" r="1.9" fill="#d4d4d4" stroke="#4a4a4a" stroke-width="0.7"/>
<circle cx="672.1" cy="504.8" r="1.9" fill="#d4d4d4" stroke="#4a4a4a" stroke-width="0.7"/>
<circle cx="662.7" cy="507.7" r="1.9" fill="#d4d4d4" stroke="#4a4a4a" stroke-width="0.7"/>
<circle cx="672.1" cy="522.4" r="1.9" fill="#d4d4d4" stroke="#4a4a4a" stroke-width="0.7"/>
<circle cx="653.2" cy="529" r="1.9" fill="#d4d4d4" stroke="#4a4a4a" stroke-width="0.7"/>
<circle cx="662.7" cy="537.8" r="1.9" fill="#d4d4d4" stroke="#4a4a4a" stroke-width="0.7"/></g>
</svg></body></html>
